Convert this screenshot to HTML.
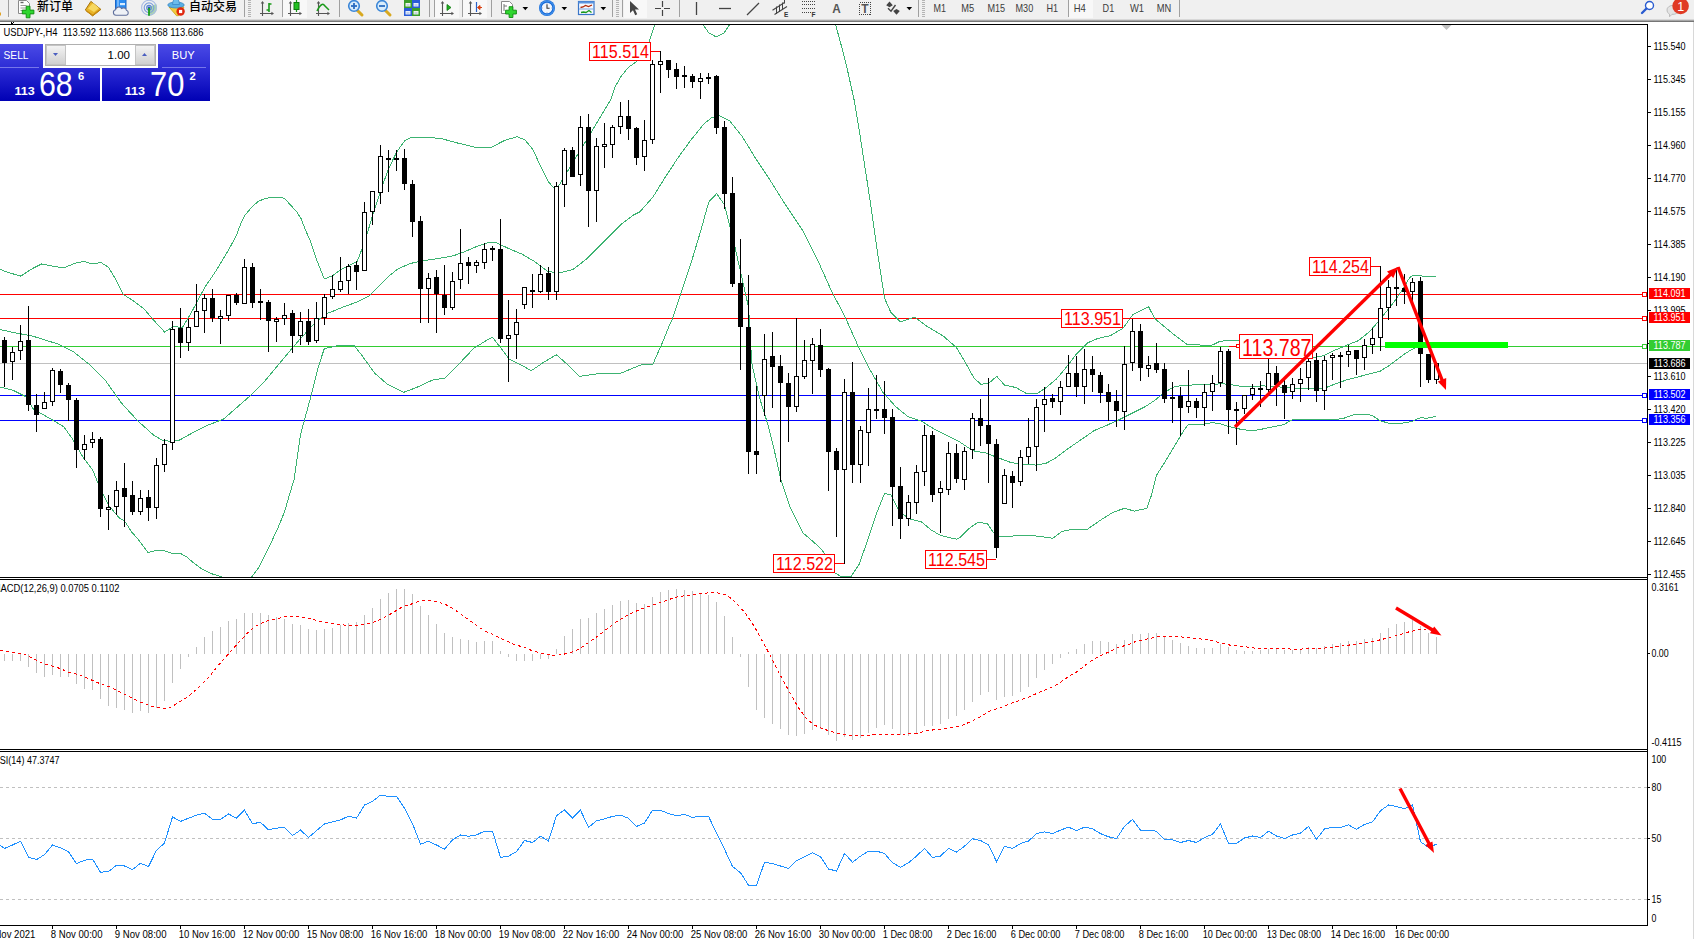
<!DOCTYPE html>
<html lang="zh"><head><meta charset="utf-8"><title>USDJPY-,H4</title>
<style>
html,body{margin:0;padding:0;background:#fff;}
body{width:1694px;height:939px;overflow:hidden;position:relative;font-family:"Liberation Sans","Noto Sans CJK SC",sans-serif;}
#tb{position:absolute;left:0;top:0;width:1694px;height:19px;background:#f0f0f0;}
#tbl{position:absolute;left:0;top:19px;width:1694px;height:3px;background:linear-gradient(#ececec 0%,#c4c4c4 33%,#8c8c8c 66%,#606060 100%);}
.t{position:absolute;white-space:nowrap;color:#000;}
.cj{font-family:"Liberation Sans","Noto Sans CJK SC",sans-serif;font-size:12px;line-height:14px;top:0px;color:#000;font-weight:500;}
.tf{font-size:10.5px;line-height:12px;top:3px;color:#3c3c3c;}
svg{position:absolute;left:0;top:0;}
svg text{font-family:"Liberation Sans",sans-serif;}
#panel{position:absolute;left:0;top:44px;width:210px;height:57px;}
</style></head><body>

<div id="tb"></div><div id="tbl"></div>
<div class="t cj" style="left:37px;">新订单</div>
<div class="t cj" style="left:189px;">自动交易</div>
<svg width="1694" height="939" viewBox="0 0 1694 939">
<defs><clipPath id="cm"><rect x="0" y="25" width="1647" height="552"/></clipPath><clipPath id="c2"><rect x="0" y="580" width="1647" height="169"/></clipPath><clipPath id="c3"><rect x="0" y="752" width="1647" height="173"/></clipPath><linearGradient id="gb" x1="0" y1="0" x2="0" y2="1"><stop offset="0" stop-color="#4a4ae6"/><stop offset="0.45" stop-color="#2a2ad4"/><stop offset="1" stop-color="#0000b4"/></linearGradient><linearGradient id="gs" x1="0" y1="0" x2="0" y2="1"><stop offset="0" stop-color="#f4f4f4"/><stop offset="1" stop-color="#cfcfcf"/></linearGradient></defs>
<g id="toolbar" shape-rendering="crispEdges">
<rect x="8" y="0" width="1" height="17" fill="#a0a0a0"/>
<rect x="244" y="0" width="1" height="17" fill="#a0a0a0"/>
<rect x="282" y="0" width="1" height="17" fill="#a0a0a0"/>
<rect x="339" y="0" width="1" height="17" fill="#a0a0a0"/>
<rect x="429" y="0" width="1" height="17" fill="#a0a0a0"/>
<rect x="434" y="0" width="1" height="17" fill="#a0a0a0"/>
<rect x="462" y="0" width="1" height="17" fill="#a0a0a0"/>
<rect x="491" y="0" width="1" height="17" fill="#a0a0a0"/>
<rect x="612" y="0" width="1" height="17" fill="#a0a0a0"/>
<rect x="622" y="0" width="1" height="17" fill="#a0a0a0"/>
<rect x="679" y="0" width="1" height="17" fill="#a0a0a0"/>
<rect x="918" y="0" width="1" height="17" fill="#a0a0a0"/>
<rect x="1068" y="0" width="1" height="17" fill="#a0a0a0"/>
<rect x="1179" y="0" width="1" height="17" fill="#a0a0a0"/>
<rect x="283" y="0" width="24" height="18" fill="#f8f8f8"/>
<rect x="435" y="0" width="24" height="18" fill="#f8f8f8"/>
<rect x="463" y="0" width="24" height="18" fill="#f8f8f8"/>
<rect x="624" y="0" width="23" height="18" fill="#f8f8f8"/>
<rect x="1069" y="0" width="24" height="18" fill="#f8f8f8"/>
<rect x="248" y="0" width="3" height="1" fill="#b4b4b4"/>
<rect x="248" y="2" width="3" height="1" fill="#b4b4b4"/>
<rect x="248" y="4" width="3" height="1" fill="#b4b4b4"/>
<rect x="248" y="6" width="3" height="1" fill="#b4b4b4"/>
<rect x="248" y="8" width="3" height="1" fill="#b4b4b4"/>
<rect x="248" y="10" width="3" height="1" fill="#b4b4b4"/>
<rect x="248" y="12" width="3" height="1" fill="#b4b4b4"/>
<rect x="248" y="14" width="3" height="1" fill="#b4b4b4"/>
<rect x="248" y="16" width="3" height="1" fill="#b4b4b4"/>
<rect x="616" y="0" width="3" height="1" fill="#b4b4b4"/>
<rect x="616" y="2" width="3" height="1" fill="#b4b4b4"/>
<rect x="616" y="4" width="3" height="1" fill="#b4b4b4"/>
<rect x="616" y="6" width="3" height="1" fill="#b4b4b4"/>
<rect x="616" y="8" width="3" height="1" fill="#b4b4b4"/>
<rect x="616" y="10" width="3" height="1" fill="#b4b4b4"/>
<rect x="616" y="12" width="3" height="1" fill="#b4b4b4"/>
<rect x="616" y="14" width="3" height="1" fill="#b4b4b4"/>
<rect x="616" y="16" width="3" height="1" fill="#b4b4b4"/>
<rect x="922" y="0" width="3" height="1" fill="#b4b4b4"/>
<rect x="922" y="2" width="3" height="1" fill="#b4b4b4"/>
<rect x="922" y="4" width="3" height="1" fill="#b4b4b4"/>
<rect x="922" y="6" width="3" height="1" fill="#b4b4b4"/>
<rect x="922" y="8" width="3" height="1" fill="#b4b4b4"/>
<rect x="922" y="10" width="3" height="1" fill="#b4b4b4"/>
<rect x="922" y="12" width="3" height="1" fill="#b4b4b4"/>
<rect x="922" y="14" width="3" height="1" fill="#b4b4b4"/>
<rect x="922" y="16" width="3" height="1" fill="#b4b4b4"/>
</g>
<text x="933.6" y="12" font-size="10.5" fill="#3c3c3c" textLength="12.5" lengthAdjust="spacingAndGlyphs">M1</text>
<text x="961.3" y="12" font-size="10.5" fill="#3c3c3c" textLength="12.9" lengthAdjust="spacingAndGlyphs">M5</text>
<text x="987.4" y="12" font-size="10.5" fill="#3c3c3c" textLength="17.7" lengthAdjust="spacingAndGlyphs">M15</text>
<text x="1015.5" y="12" font-size="10.5" fill="#3c3c3c" textLength="17.7" lengthAdjust="spacingAndGlyphs">M30</text>
<text x="1046.4" y="12" font-size="10.5" fill="#3c3c3c" textLength="11.6" lengthAdjust="spacingAndGlyphs">H1</text>
<text x="1073.7" y="12" font-size="10.5" fill="#3c3c3c" textLength="12.1" lengthAdjust="spacingAndGlyphs">H4</text>
<text x="1102.6" y="12" font-size="10.5" fill="#3c3c3c" textLength="11.6" lengthAdjust="spacingAndGlyphs">D1</text>
<text x="1129.9" y="12" font-size="10.5" fill="#3c3c3c" textLength="14.1" lengthAdjust="spacingAndGlyphs">W1</text>
<text x="1156.7" y="12" font-size="10.5" fill="#3c3c3c" textLength="14.5" lengthAdjust="spacingAndGlyphs">MN</text>
<g id="icons"><svg x="0" y="0" width="1694" height="19" viewBox="0 0 1694 19" overflow="hidden"><path d="M18.500 0.500h8l3 3v10h-11z" fill="#fff" stroke="#8a8a8a"/><path d="M20.500 2.500h3" stroke="#666" stroke-width="1.400"/><path d="M20.500 5.500h6M20.500 8h6M20.500 10.500h3" stroke="#9a9a9a" stroke-width="1"/><path d="M26.2 6.2h3.8v3.9h3.9v3.8h-3.9v3.9h-3.8v-3.9h-3.9v-3.8h3.9z" fill="#2fd62f" stroke="#0f8a0f" stroke-width="0.9"/><path d="M85.300 10l5.600-8.600 10 8-8.300 6.500z" fill="#e9b428" stroke="#a87408" stroke-width="1"/><path d="M88 8.500l5 -5.500 6 5-5 4z" fill="#f7d860"/><path d="M86.500 11l6.300 4.300 7-5.500" fill="none" stroke="#c88a10" stroke-width="1.300"/><rect x="115.500" y="-1" width="10.500" height="9.500" fill="#2b8cf0" stroke="#1a66c8"/><path d="M118 0v8" stroke="#8cc4ff" stroke-width="1.500"/><rect x="120" y="3" width="5" height="2.200" fill="#d8ecff"/><path d="M116 15.300a2.800 2.800 0 0 1-0.500-5.500a3.300 3.300 0 0 1 6-1.300a3.200 3.200 0 0 1 5 1.800a2.600 2.600 0 0 1-0.300 5z" fill="#eef1f6" stroke="#5f6f9c" stroke-width="1.100"/><path d="M149 7.700L149 15.700A8 8 0 0 0 156 3.800Z" fill="#8ccc8c" opacity="0.700"/><circle cx="149" cy="7.700" r="7.400" fill="none" stroke="#a8bce4" stroke-width="1.100"/><circle cx="149" cy="7.700" r="4.800" fill="none" stroke="#7f9fdc" stroke-width="1.200"/><circle cx="149" cy="7.700" r="2.300" fill="none" stroke="#5a86d4" stroke-width="1.100"/><circle cx="149" cy="7.700" r="1.300" fill="#2a5cc0"/><path d="M149 8v7.800" fill="none" stroke="#18a018" stroke-width="1.800"/><path d="M169 7l7.500 8.700h2l5.500-8.700z" fill="#f2cc3c" stroke="#c8a018" stroke-width="0.800"/><ellipse cx="176" cy="5" rx="8.200" ry="3" fill="#5ab0e4" stroke="#3a88c4" stroke-width="0.800"/><path d="M172.500 4.500q0.500-6 3.500-6t3.500 6z" fill="#6cbcec" stroke="#3a88c4" stroke-width="0.800"/><circle cx="180.600" cy="11.500" r="4.200" fill="#e02810"/><rect x="179" y="9.900" width="3.200" height="3.200" fill="#fff"/><path d="M262.5 2v14M260 13.500h13" stroke="#555" stroke-width="1.100" fill="none"/><path d="M262.5 1l-1.800 2.600h3.600zM274 13.500l-2.600-1.800v3.600z" fill="#555"/><path d="M269 3v9M269 4h2.5M266.5 10h2.5" stroke="#1a9a1a" stroke-width="1.6" fill="none"/><path d="M290.5 2v14M288 13.500h13" stroke="#555" stroke-width="1.100" fill="none"/><path d="M290.5 1l-1.800 2.600h3.600zM302 13.500l-2.600-1.800v3.600z" fill="#555"/><path d="M296.5 0v12" stroke="#1a9a1a" stroke-width="1.2"/><rect x="294" y="2.5" width="5" height="7" fill="#22c022" stroke="#0e7a0e"/><path d="M318.5 2v14M316 13.500h13" stroke="#555" stroke-width="1.100" fill="none"/><path d="M318.5 1l-1.800 2.600h3.600zM330 13.500l-2.600-1.800v3.600z" fill="#555"/><path d="M317 11q5-10 8-5l4 4" stroke="#1a9a1a" stroke-width="1.5" fill="none"/><path d="M357 10l5 5" stroke="#d8a820" stroke-width="3" stroke-linecap="round"/><circle cx="354" cy="6" r="5.3" fill="#d8ecfb" stroke="#3a86d8" stroke-width="1.6"/><path d="M351 6h6" stroke="#2a6cc0" stroke-width="1.8"/><path d="M354 3v6" stroke="#2a6cc0" stroke-width="1.8"/><path d="M385 10l5 5" stroke="#d8a820" stroke-width="3" stroke-linecap="round"/><circle cx="382" cy="6" r="5.3" fill="#d8ecfb" stroke="#3a86d8" stroke-width="1.6"/><path d="M379 6h6" stroke="#2a6cc0" stroke-width="1.8"/><rect x="404" y="0" width="8" height="8" fill="#3a9e2a"/><rect x="412" y="0" width="8" height="8" fill="#2a5cd8"/><rect x="404" y="8" width="8" height="8" fill="#2a5cd8"/><rect x="412" y="8" width="8" height="8" fill="#3a9e2a"/><rect x="405.500" y="3" width="5" height="3.500" fill="#eef6e8"/><rect x="413.500" y="3" width="5" height="3.500" fill="#e8eefc"/><rect x="405.500" y="11" width="5" height="3.500" fill="#e8eefc"/><rect x="413.500" y="11" width="5" height="3.500" fill="#eef6e8"/><path d="M406.500 5h3M414.500 5h3M406.500 13h3M414.500 13h3" stroke="#8aa8d0" stroke-width="0.800"/><path d="M442.5 2v14M440 13.500h13" stroke="#555" stroke-width="1.100" fill="none"/><path d="M442.5 1l-1.800 2.600h3.600zM454 13.500l-2.600-1.800v3.600z" fill="#555"/><path d="M447 4.500l4 3-4 3z" fill="#22b022" stroke="#0e7a0e" stroke-width="0.8"/><path d="M470.5 2v14M468 13.500h13" stroke="#555" stroke-width="1.100" fill="none"/><path d="M470.5 1l-1.800 2.600h3.600zM482 13.500l-2.600-1.800v3.600z" fill="#555"/><path d="M476.500 2v10" stroke="#2a62c8" stroke-width="1.2"/><path d="M482 7.500h-4M480 5.500l-2.500 2 2.500 2z" stroke="#d84010" fill="#d84010" stroke-width="1"/><path d="M501.500 1.500h8l3 3v9h-11z" fill="#fff" stroke="#8a8a8a"/><path d="M504 4v7M504 6h3" stroke="#777" stroke-width="1"/><path d="M509.1 6.7h3.8v3.5h3.5v3.8h-3.5v3.5h-3.8v-3.5h-3.5v-3.8h3.5z" fill="#2fd62f" stroke="#0f8a0f" stroke-width="0.9"/><circle cx="547" cy="8" r="8" fill="#1a6cd8"/><circle cx="547" cy="8" r="7" fill="none" stroke="#4a9af0" stroke-width="1"/><circle cx="547" cy="8" r="5.300" fill="#f2f6fc"/><path d="M547 4.300v4h2.600" stroke="#333" stroke-width="1.100" fill="none"/><path d="M547 3.200v0.800M547 12v0.800M542.200 8h0.800M551 8h0.800" stroke="#8aa0c0" stroke-width="0.800"/><rect x="578.500" y="1.500" width="15.500" height="13" fill="#f6f9ff" stroke="#3a76c8" stroke-width="1.200"/><rect x="578.500" y="1.500" width="15.500" height="2" fill="#5a94e0"/><path d="M579 9h14.500" stroke="#7aa6e0"/><path d="M580.500 7.500l2.500-0.500 2.500-1.500 3 1 3.500-1.500" stroke="#b02808" fill="none" stroke-width="1.300"/><path d="M581 12.500l2.500-0.500 2.500 0.500 3-2 2.500 2" stroke="#1a9a1a" fill="none" stroke-width="1.300"/><path d="M522.5 7h5.600l-2.800 3.200z" fill="#000"/><path d="M561.5 7h5.600l-2.800 3.200z" fill="#000"/><path d="M600.5 7h5.600l-2.800 3.200z" fill="#000"/><path d="M906.5 7h5.600l-2.800 3.200z" fill="#000"/><path d="M630 1v12l3-2.800 2.200 5 2-1-2.200-4.800h4z" fill="#444"/><path d="M662.500 1v6M662.500 10v6M655 8.500h6M664 8.500h6" stroke="#444" stroke-width="1.200"/><path d="M696.500 2v13" stroke="#444" stroke-width="1.300"/><path d="M719 8.500h12" stroke="#444" stroke-width="1.300"/><path d="M747 15l12-12" stroke="#444" stroke-width="1.300"/><path d="M772.500 10.300L784.500 2.500M774.500 14.500L787 6.500" stroke="#444" stroke-width="1.100" fill="none"/><path d="M776.500 6.500v7.500M779.500 4.500v7.500M782.500 2.500v7.500M784.500 0v3.500" stroke="#444" stroke-width="1" fill="none"/><text x="784" y="17" font-size="6.500" font-weight="bold" fill="#333">E</text><g shape-rendering="crispEdges"><path d="M802 1.500h13M802 4.500h13M802 8.500h13M802 12.500h9" stroke="#444" stroke-width="1" stroke-dasharray="1 1"/></g><text x="811.500" y="17" font-size="6.500" font-weight="bold" fill="#333">F</text><text x="832.300" y="13" font-size="12.500" font-weight="bold" fill="#555" textLength="8.500" lengthAdjust="spacingAndGlyphs">A</text><g shape-rendering="crispEdges"><rect x="859.500" y="2.500" width="11" height="12" fill="none" stroke="#444" stroke-dasharray="1 1"/></g><text x="861.300" y="13" font-size="12" font-weight="bold" fill="#555">T</text><path d="M889.500 1.500l3.300 3.700-3.300 2-3.300-2zM896.500 14.800l-3.300-3.700 3.300-2 3.300 2z" fill="#444"/><path d="M888 8.200l3 3 4.500-6.200" fill="none" stroke="#444" stroke-width="1.400"/><rect x="0" y="12.500" width="1" height="3" fill="#e0a428"/><circle cx="1649.500" cy="5.500" r="4" fill="#fff" stroke="#2a5cd0" stroke-width="1.400"/><path d="M1646.500 8.500l-4.500 4.500" stroke="#2a5cd0" stroke-width="2.400" stroke-linecap="round"/><path d="M1667 10a6 4.500 0 1 1 5 4.300l-2.500 2.500v-2.700a6 4.500 0 0 1-2.500-4.100z" fill="#e4e4e4" stroke="#bdbdbd"/><circle cx="1680.600" cy="6" r="8.300" fill="#e03a24"/><text x="1677.300" y="10.500" font-size="12.500" fill="#fff">1</text></svg></g>
<g shape-rendering="crispEdges">
<rect x="0" y="22" width="1694" height="2" fill="#fff"/>
<rect x="0" y="24" width="1648" height="1" fill="#000"/>
<rect x="0" y="577" width="1648" height="1" fill="#000"/>
<rect x="0" y="579" width="1648" height="1" fill="#000"/>
<rect x="0" y="749" width="1648" height="1" fill="#000"/>
<rect x="0" y="751" width="1648" height="1" fill="#000"/>
<rect x="0" y="925" width="1648" height="1" fill="#000"/>
<rect x="1647" y="24" width="1" height="902" fill="#000"/>
<rect x="1693" y="22" width="1" height="917" fill="#d8d8d8"/>
<path d="M11 22l1.500 2 1.500-2" stroke="#000" fill="none"/>
<rect x="1648" y="46" width="3" height="1" fill="#000"/>
<rect x="1648" y="79" width="3" height="1" fill="#000"/>
<rect x="1648" y="112" width="3" height="1" fill="#000"/>
<rect x="1648" y="145" width="3" height="1" fill="#000"/>
<rect x="1648" y="178" width="3" height="1" fill="#000"/>
<rect x="1648" y="211" width="3" height="1" fill="#000"/>
<rect x="1648" y="244" width="3" height="1" fill="#000"/>
<rect x="1648" y="277" width="3" height="1" fill="#000"/>
<rect x="1648" y="310" width="3" height="1" fill="#000"/>
<rect x="1648" y="343" width="3" height="1" fill="#000"/>
<rect x="1648" y="376" width="3" height="1" fill="#000"/>
<rect x="1648" y="409" width="3" height="1" fill="#000"/>
<rect x="1648" y="442" width="3" height="1" fill="#000"/>
<rect x="1648" y="475" width="3" height="1" fill="#000"/>
<rect x="1648" y="508" width="3" height="1" fill="#000"/>
<rect x="1648" y="541" width="3" height="1" fill="#000"/>
<rect x="1648" y="574" width="3" height="1" fill="#000"/>
<rect x="1648" y="653" width="2" height="1" fill="#000"/>
<rect x="1648" y="787" width="2" height="1" fill="#000"/>
<rect x="1648" y="838" width="2" height="1" fill="#000"/>
<rect x="1648" y="899" width="2" height="1" fill="#000"/>
<rect x="52" y="926" width="1" height="3" fill="#000"/>
<rect x="116" y="926" width="1" height="3" fill="#000"/>
<rect x="180" y="926" width="1" height="3" fill="#000"/>
<rect x="244" y="926" width="1" height="3" fill="#000"/>
<rect x="308" y="926" width="1" height="3" fill="#000"/>
<rect x="372" y="926" width="1" height="3" fill="#000"/>
<rect x="436" y="926" width="1" height="3" fill="#000"/>
<rect x="500" y="926" width="1" height="3" fill="#000"/>
<rect x="564" y="926" width="1" height="3" fill="#000"/>
<rect x="628" y="926" width="1" height="3" fill="#000"/>
<rect x="692" y="926" width="1" height="3" fill="#000"/>
<rect x="756" y="926" width="1" height="3" fill="#000"/>
<rect x="820" y="926" width="1" height="3" fill="#000"/>
<rect x="884" y="926" width="1" height="3" fill="#000"/>
<rect x="948" y="926" width="1" height="3" fill="#000"/>
<rect x="1012" y="926" width="1" height="3" fill="#000"/>
<rect x="1076" y="926" width="1" height="3" fill="#000"/>
<rect x="1140" y="926" width="1" height="3" fill="#000"/>
<rect x="1204" y="926" width="1" height="3" fill="#000"/>
<rect x="1268" y="926" width="1" height="3" fill="#000"/>
<rect x="1332" y="926" width="1" height="3" fill="#000"/>
<rect x="1396" y="926" width="1" height="3" fill="#000"/>
</g>
<path d="M1441.500 25h10l-5 5z" fill="#c0c0c0"/>
<g shape-rendering="crispEdges">
<rect x="0" y="294" width="1647" height="1" fill="#ff0000"/>
<rect x="0" y="318" width="1647" height="1" fill="#ff0000"/>
<rect x="0" y="346" width="1647" height="1" fill="#32cd32"/>
<rect x="0" y="363" width="1647" height="1" fill="#c0c0c0"/>
<rect x="0" y="395" width="1647" height="1" fill="#0000ff"/>
<rect x="0" y="420" width="1647" height="1" fill="#0000ff"/>
</g>
<g clip-path="url(#cm)" fill="none" stroke="#3cb371" stroke-width="1" shape-rendering="crispEdges">
<polyline points="0.0,269.4 9.6,272.9 20.8,276.1 32.0,268.8 41.5,264.0 52.7,266.2 63.9,267.8 75.1,263.3 83.7,261.4 92.7,264.0 100.7,262.4 108.6,267.2 115.0,278.3 123.0,294.3 134.2,301.4 143.8,308.7 153.4,319.9 164.6,332.0 174.2,326.3 182.1,327.9 191.7,311.9 204.5,287.9 217.3,268.8 226.9,252.8 235.8,236.8 241.0,223.1 244.9,215.3 251.4,207.5 257.9,201.7 264.4,198.7 273.5,197.1 280.0,197.1 284.5,198.4 290.4,204.9 296.9,212.1 301.4,219.2 304.7,228.3 309.9,240.0 316.4,259.2 324.3,279.0 332.3,275.8 341.2,269.4 357.2,261.4 365.2,240.6 373.1,213.4 382.7,184.7 389.1,167.7 396.8,151.8 404.8,140.6 411.5,137.4 424.3,137.4 440.2,138.3 457.8,143.1 475.4,147.3 491.4,147.3 504.2,140.6 516.9,136.7 524.9,139.9 532.9,149.5 540.9,167.1 548.9,182.4 555.3,189.5 560.1,183.7 572.9,162.3 585.6,141.5 595.2,125.6 604.8,109.6 610.6,100.0 615.0,87.2 620.9,76.6 628.0,67.7 636.9,61.3 643.3,51.8 649.2,41.8 654.4,25.8 662.4,16.8 678.3,7.2 694.3,16.8 703.9,25.8 708.7,32.8 716.1,36.9 723.7,33.4 728.8,25.8 735.9,13.6 783.8,0.8 828.5,10.4 835.9,25.8 841.3,45.6 847.7,71.1 854.1,99.9 860.5,138.2 866.9,179.8 871.7,211.7 878.1,256.5 884.5,298.0 890.8,312.4 900.4,322.0 914.8,317.2 927.6,326.7 943.6,336.3 956.4,347.5 965.9,363.5 973.9,377.9 980.8,384.3 988.8,383.3 996.7,376.3 1004.7,385.2 1015.9,387.5 1027.1,393.9 1036.7,393.9 1046.3,387.5 1055.9,379.5 1065.5,368.3 1076.6,353.9 1087.8,342.7 1097.4,338.6 1110.2,335.7 1123.0,328.3 1132.6,314.9 1140.5,310.8 1148.5,306.6 1154.9,318.8 1164.5,326.7 1174.1,334.7 1186.9,344.3 1199.7,345.0 1212.4,345.0 1220.4,341.1 1238.0,340.5 1239.2,341.2 1273.3,350.1 1313.8,357.6 1324.4,355.5 1335.1,350.1 1347.8,344.8 1358.5,340.6 1369.1,332.0 1377.7,322.4 1386.2,311.8 1394.7,301.1 1403.2,288.4 1409.6,277.7 1412.8,275.6 1436.3,276.6"/>
<polyline points="0.0,329.5 14.4,332.7 32.0,335.9 57.5,343.9 73.5,351.8 89.5,364.6 105.5,380.6 121.4,403.0 137.4,420.5 153.4,434.9 163.0,440.7 172.6,441.3 178.9,440.4 191.7,433.3 207.7,425.3 223.7,418.9 236.5,407.8 249.2,396.6 265.2,380.6 281.2,361.4 297.2,342.3 313.2,324.7 325.9,313.5 330.0,312.5 342.8,307.1 357.2,302.0 368.3,296.5 377.9,286.9 387.5,277.3 397.1,269.4 409.9,263.6 422.7,260.7 438.6,258.5 453.0,255.9 464.2,251.8 477.0,246.4 489.8,242.2 496.2,242.8 508.9,248.6 521.7,254.0 534.5,261.4 547.3,271.0 558.5,273.2 572.9,269.4 585.6,259.8 595.2,250.2 608.0,237.4 620.8,224.6 633.6,215.0 640.0,211.7 652.8,197.3 665.6,176.6 678.3,157.4 691.1,139.8 703.9,123.9 711.9,117.5 719.9,115.9 729.5,120.7 742.3,136.6 755.0,157.4 767.8,176.6 783.8,202.1 803.0,230.9 818.9,262.9 831.7,291.6 844.5,315.6 857.3,344.3 870.1,369.9 882.9,392.3 895.6,406.6 908.4,416.9 921.2,421.0 934.0,429.0 946.8,435.4 959.5,441.8 972.8,450.7 985.6,453.0 998.3,457.8 1011.1,462.6 1023.9,464.2 1036.7,465.1 1046.3,463.2 1055.9,457.8 1068.6,448.2 1081.4,439.5 1094.2,430.6 1107.0,425.2 1119.8,419.4 1132.6,413.0 1145.3,406.6 1154.9,400.2 1164.5,392.3 1174.1,386.8 1183.7,385.2 1196.5,384.9 1209.2,384.9 1222.0,383.6 1230.7,384.7 1241.3,386.4 1252.0,386.4 1262.6,385.9 1273.3,386.4 1283.9,387.4 1294.6,388.5 1305.2,388.5 1315.9,388.9 1326.5,387.4 1337.2,383.2 1347.8,379.5 1358.5,376.8 1369.1,374.0 1379.8,371.4 1388.3,366.1 1396.8,359.7 1405.4,353.3 1413.9,348.4 1420.3,345.5"/>
<polyline points="0.0,387.0 12.8,390.2 25.6,396.6 33.6,409.4 47.9,417.3 63.9,426.9 71.9,438.1 83.1,457.3 92.7,470.1 99.1,486.1 108.6,505.2 119.8,518.6 124.5,520.9 131.7,532.0 139.5,541.0 147.9,552.5 152.5,551.2 162.9,550.1 171.9,553.4 180.4,553.4 186.2,556.6 194.0,563.1 201.8,569.0 210.9,573.5 221.3,576.8 236.0,581.0 251.8,576.8 259.0,567.0 265.5,554.0 271.9,541.0 278.4,526.8 284.3,512.5 288.8,496.9 294.0,480.0 300.4,434.9 310.0,399.8 318.0,367.8 324.3,348.6 332.3,347.0 339.6,345.1 354.0,345.1 362.0,355.6 374.7,373.2 387.5,384.4 403.5,392.4 416.3,387.6 432.3,380.2 445.0,378.0 457.8,365.2 473.8,348.3 485.0,341.3 492.3,337.1 499.4,346.1 508.9,358.8 521.7,365.2 531.3,370.7 544.1,362.0 556.2,354.7 566.5,363.6 579.2,376.4 601.6,373.2 620.8,373.2 641.6,364.6 652.7,364.6 662.3,342.9 670.0,323.7 672.0,320.1 681.5,291.6 691.1,262.9 700.7,230.9 708.7,202.1 716.7,193.5 724.7,205.3 732.7,237.3 740.7,272.4 748.6,307.6 751.8,363.5 759.8,398.6 767.8,424.2 774.2,449.8 780.6,478.5 790.2,507.3 803.0,532.9 815.8,544.0 823.7,552.0 831.7,571.2 841.3,576.6 850.9,576.6 858.9,564.8 866.9,542.4 876.5,513.7 884.5,493.6 890.8,494.5 898.8,510.5 908.4,518.5 921.2,521.7 930.8,529.7 940.4,535.4 956.4,539.2 960.0,537.7 969.6,528.1 977.6,522.6 987.2,523.3 993.6,532.9 999.9,537.0 1011.1,536.1 1023.9,535.4 1038.3,536.1 1052.7,538.3 1062.3,531.3 1075.0,529.0 1087.8,529.0 1100.6,520.1 1113.4,512.1 1124.6,508.3 1134.2,511.1 1146.9,508.3 1151.7,494.5 1156.5,475.3 1164.5,462.6 1174.1,446.6 1183.7,430.6 1188.5,424.2 1199.7,424.8 1212.4,422.6 1220.0,423.7 1228.5,426.4 1237.0,428.6 1245.6,430.0 1254.1,430.5 1262.6,429.0 1273.3,426.8 1283.9,424.7 1290.3,420.5 1294.6,419.4 1320.1,419.4 1332.9,419.8 1343.6,418.3 1354.2,414.5 1367.0,414.1 1373.4,416.2 1379.8,420.5 1388.3,423.2 1399.0,423.7 1411.8,421.5 1420.3,417.7 1426.7,418.3 1436.3,416.2"/>
</g>
<g shape-rendering="crispEdges" clip-path="url(#cm)">
<rect x="4" y="337" width="1" height="50" fill="#000"/>
<rect x="2" y="340" width="5" height="23" fill="#000"/>
<rect x="12" y="347" width="1" height="33" fill="#000"/>
<rect x="10" y="352" width="5" height="10" fill="#000"/><rect x="11" y="353" width="3" height="8" fill="#fff"/>
<rect x="20" y="325" width="1" height="35" fill="#000"/>
<rect x="18" y="341" width="5" height="10" fill="#000"/><rect x="19" y="342" width="3" height="8" fill="#fff"/>
<rect x="28" y="306" width="1" height="105" fill="#000"/>
<rect x="26" y="340" width="5" height="65" fill="#000"/>
<rect x="36" y="394" width="1" height="38" fill="#000"/>
<rect x="34" y="405" width="5" height="10" fill="#000"/>
<rect x="44" y="392" width="1" height="17" fill="#000"/>
<rect x="42" y="402" width="5" height="7" fill="#000"/><rect x="43" y="403" width="3" height="5" fill="#fff"/>
<rect x="52" y="368" width="1" height="38" fill="#000"/>
<rect x="50" y="370" width="5" height="32" fill="#000"/><rect x="51" y="371" width="3" height="30" fill="#fff"/>
<rect x="60" y="369" width="1" height="24" fill="#000"/>
<rect x="58" y="371" width="5" height="14" fill="#000"/>
<rect x="68" y="383" width="1" height="38" fill="#000"/>
<rect x="66" y="385" width="5" height="15" fill="#000"/>
<rect x="76" y="398" width="1" height="70" fill="#000"/>
<rect x="74" y="400" width="5" height="50" fill="#000"/>
<rect x="84" y="435" width="1" height="25" fill="#000"/>
<rect x="82" y="444" width="5" height="6" fill="#000"/><rect x="83" y="445" width="3" height="4" fill="#fff"/>
<rect x="92" y="432" width="1" height="16" fill="#000"/>
<rect x="90" y="439" width="5" height="4" fill="#000"/><rect x="91" y="440" width="3" height="2" fill="#fff"/>
<rect x="100" y="437" width="1" height="80" fill="#000"/>
<rect x="98" y="439" width="5" height="70" fill="#000"/>
<rect x="108" y="495" width="1" height="35" fill="#000"/>
<rect x="106" y="507" width="5" height="3" fill="#000"/><rect x="107" y="508" width="3" height="1" fill="#fff"/>
<rect x="116" y="481" width="1" height="34" fill="#000"/>
<rect x="114" y="490" width="5" height="17" fill="#000"/><rect x="115" y="491" width="3" height="15" fill="#fff"/>
<rect x="124" y="463" width="1" height="64" fill="#000"/>
<rect x="122" y="488" width="5" height="9" fill="#000"/>
<rect x="132" y="481" width="1" height="34" fill="#000"/>
<rect x="130" y="495" width="5" height="17" fill="#000"/>
<rect x="140" y="490" width="1" height="25" fill="#000"/>
<rect x="138" y="498" width="5" height="14" fill="#000"/><rect x="139" y="499" width="3" height="12" fill="#fff"/>
<rect x="148" y="490" width="1" height="31" fill="#000"/>
<rect x="146" y="497" width="5" height="11" fill="#000"/>
<rect x="156" y="458" width="1" height="61" fill="#000"/>
<rect x="154" y="465" width="5" height="43" fill="#000"/><rect x="155" y="466" width="3" height="41" fill="#fff"/>
<rect x="164" y="439" width="1" height="33" fill="#000"/>
<rect x="162" y="444" width="5" height="21" fill="#000"/><rect x="163" y="445" width="3" height="19" fill="#fff"/>
<rect x="172" y="321" width="1" height="129" fill="#000"/>
<rect x="170" y="329" width="5" height="114" fill="#000"/><rect x="171" y="330" width="3" height="112" fill="#fff"/>
<rect x="180" y="308" width="1" height="50" fill="#000"/>
<rect x="178" y="328" width="5" height="15" fill="#000"/>
<rect x="188" y="319" width="1" height="32" fill="#000"/>
<rect x="186" y="327" width="5" height="16" fill="#000"/><rect x="187" y="328" width="3" height="14" fill="#fff"/>
<rect x="196" y="284" width="1" height="43" fill="#000"/>
<rect x="194" y="311" width="5" height="16" fill="#000"/><rect x="195" y="312" width="3" height="14" fill="#fff"/>
<rect x="204" y="294" width="1" height="39" fill="#000"/>
<rect x="202" y="298" width="5" height="13" fill="#000"/><rect x="203" y="299" width="3" height="11" fill="#fff"/>
<rect x="212" y="289" width="1" height="33" fill="#000"/>
<rect x="210" y="298" width="5" height="20" fill="#000"/>
<rect x="220" y="310" width="1" height="34" fill="#000"/>
<rect x="218" y="316" width="5" height="3" fill="#000"/><rect x="219" y="317" width="3" height="1" fill="#fff"/>
<rect x="228" y="295" width="1" height="26" fill="#000"/>
<rect x="226" y="295" width="5" height="21" fill="#000"/><rect x="227" y="296" width="3" height="19" fill="#fff"/>
<rect x="236" y="293" width="1" height="12" fill="#000"/>
<rect x="234" y="295" width="5" height="8" fill="#000"/>
<rect x="244" y="259" width="1" height="45" fill="#000"/>
<rect x="242" y="267" width="5" height="37" fill="#000"/><rect x="243" y="268" width="3" height="35" fill="#fff"/>
<rect x="252" y="263" width="1" height="45" fill="#000"/>
<rect x="250" y="267" width="5" height="36" fill="#000"/>
<rect x="260" y="289" width="1" height="31" fill="#000"/>
<rect x="258" y="301" width="5" height="2" fill="#000"/>
<rect x="268" y="300" width="1" height="52" fill="#000"/>
<rect x="266" y="302" width="5" height="19" fill="#000"/>
<rect x="276" y="317" width="1" height="25" fill="#000"/>
<rect x="274" y="319" width="5" height="3" fill="#000"/><rect x="275" y="320" width="3" height="1" fill="#fff"/>
<rect x="284" y="303" width="1" height="22" fill="#000"/>
<rect x="282" y="315" width="5" height="4" fill="#000"/><rect x="283" y="316" width="3" height="2" fill="#fff"/>
<rect x="292" y="310" width="1" height="43" fill="#000"/>
<rect x="290" y="313" width="5" height="23" fill="#000"/>
<rect x="300" y="312" width="1" height="33" fill="#000"/>
<rect x="298" y="321" width="5" height="15" fill="#000"/><rect x="299" y="322" width="3" height="13" fill="#fff"/>
<rect x="308" y="309" width="1" height="36" fill="#000"/>
<rect x="306" y="321" width="5" height="21" fill="#000"/>
<rect x="316" y="302" width="1" height="41" fill="#000"/>
<rect x="314" y="318" width="5" height="23" fill="#000"/><rect x="315" y="319" width="3" height="21" fill="#fff"/>
<rect x="324" y="294" width="1" height="31" fill="#000"/>
<rect x="322" y="297" width="5" height="21" fill="#000"/><rect x="323" y="298" width="3" height="19" fill="#fff"/>
<rect x="332" y="275" width="1" height="24" fill="#000"/>
<rect x="330" y="289" width="5" height="8" fill="#000"/><rect x="331" y="290" width="3" height="6" fill="#fff"/>
<rect x="340" y="257" width="1" height="35" fill="#000"/>
<rect x="338" y="281" width="5" height="9" fill="#000"/><rect x="339" y="282" width="3" height="7" fill="#fff"/>
<rect x="348" y="264" width="1" height="30" fill="#000"/>
<rect x="346" y="266" width="5" height="15" fill="#000"/><rect x="347" y="267" width="3" height="13" fill="#fff"/>
<rect x="356" y="261" width="1" height="29" fill="#000"/>
<rect x="354" y="265" width="5" height="7" fill="#000"/>
<rect x="364" y="202" width="1" height="69" fill="#000"/>
<rect x="362" y="212" width="5" height="59" fill="#000"/><rect x="363" y="213" width="3" height="57" fill="#fff"/>
<rect x="372" y="191" width="1" height="34" fill="#000"/>
<rect x="370" y="191" width="5" height="21" fill="#000"/><rect x="371" y="192" width="3" height="19" fill="#fff"/>
<rect x="380" y="145" width="1" height="59" fill="#000"/>
<rect x="378" y="156" width="5" height="37" fill="#000"/><rect x="379" y="157" width="3" height="35" fill="#fff"/>
<rect x="388" y="150" width="1" height="42" fill="#000"/>
<rect x="386" y="158" width="5" height="2" fill="#000"/>
<rect x="396" y="150" width="1" height="21" fill="#000"/>
<rect x="394" y="158" width="5" height="2" fill="#000"/>
<rect x="404" y="149" width="1" height="41" fill="#000"/>
<rect x="402" y="158" width="5" height="26" fill="#000"/>
<rect x="412" y="180" width="1" height="57" fill="#000"/>
<rect x="410" y="184" width="5" height="38" fill="#000"/>
<rect x="420" y="216" width="1" height="107" fill="#000"/>
<rect x="418" y="221" width="5" height="68" fill="#000"/>
<rect x="428" y="273" width="1" height="50" fill="#000"/>
<rect x="426" y="278" width="5" height="11" fill="#000"/><rect x="427" y="279" width="3" height="9" fill="#fff"/>
<rect x="436" y="270" width="1" height="63" fill="#000"/>
<rect x="434" y="277" width="5" height="17" fill="#000"/>
<rect x="444" y="265" width="1" height="50" fill="#000"/>
<rect x="442" y="295" width="5" height="13" fill="#000"/>
<rect x="452" y="272" width="1" height="38" fill="#000"/>
<rect x="450" y="281" width="5" height="27" fill="#000"/><rect x="451" y="282" width="3" height="25" fill="#fff"/>
<rect x="460" y="229" width="1" height="60" fill="#000"/>
<rect x="458" y="263" width="5" height="17" fill="#000"/><rect x="459" y="264" width="3" height="15" fill="#fff"/>
<rect x="468" y="257" width="1" height="27" fill="#000"/>
<rect x="466" y="262" width="5" height="4" fill="#000"/>
<rect x="476" y="260" width="1" height="13" fill="#000"/>
<rect x="474" y="262" width="5" height="4" fill="#000"/><rect x="475" y="263" width="3" height="2" fill="#fff"/>
<rect x="484" y="243" width="1" height="26" fill="#000"/>
<rect x="482" y="249" width="5" height="14" fill="#000"/><rect x="483" y="250" width="3" height="12" fill="#fff"/>
<rect x="492" y="246" width="1" height="15" fill="#000"/>
<rect x="490" y="248" width="5" height="2" fill="#000"/>
<rect x="500" y="219" width="1" height="124" fill="#000"/>
<rect x="498" y="249" width="5" height="90" fill="#000"/>
<rect x="508" y="300" width="1" height="82" fill="#000"/>
<rect x="506" y="335" width="5" height="4" fill="#000"/><rect x="507" y="336" width="3" height="2" fill="#fff"/>
<rect x="516" y="309" width="1" height="50" fill="#000"/>
<rect x="514" y="322" width="5" height="13" fill="#000"/><rect x="515" y="323" width="3" height="11" fill="#fff"/>
<rect x="524" y="287" width="1" height="22" fill="#000"/>
<rect x="522" y="287" width="5" height="18" fill="#000"/><rect x="523" y="288" width="3" height="16" fill="#fff"/>
<rect x="532" y="274" width="1" height="34" fill="#000"/>
<rect x="530" y="290" width="5" height="2" fill="#000"/>
<rect x="540" y="265" width="1" height="28" fill="#000"/>
<rect x="538" y="274" width="5" height="18" fill="#000"/><rect x="539" y="275" width="3" height="16" fill="#fff"/>
<rect x="548" y="267" width="1" height="33" fill="#000"/>
<rect x="546" y="273" width="5" height="19" fill="#000"/>
<rect x="556" y="182" width="1" height="118" fill="#000"/>
<rect x="554" y="186" width="5" height="106" fill="#000"/><rect x="555" y="187" width="3" height="104" fill="#fff"/>
<rect x="564" y="148" width="1" height="59" fill="#000"/>
<rect x="562" y="150" width="5" height="35" fill="#000"/><rect x="563" y="151" width="3" height="33" fill="#fff"/>
<rect x="572" y="147" width="1" height="30" fill="#000"/>
<rect x="570" y="150" width="5" height="27" fill="#000"/>
<rect x="580" y="116" width="1" height="70" fill="#000"/>
<rect x="578" y="127" width="5" height="48" fill="#000"/><rect x="579" y="128" width="3" height="46" fill="#fff"/>
<rect x="588" y="114" width="1" height="113" fill="#000"/>
<rect x="586" y="127" width="5" height="64" fill="#000"/>
<rect x="596" y="138" width="1" height="84" fill="#000"/>
<rect x="594" y="146" width="5" height="45" fill="#000"/><rect x="595" y="147" width="3" height="43" fill="#fff"/>
<rect x="604" y="123" width="1" height="45" fill="#000"/>
<rect x="602" y="144" width="5" height="3" fill="#000"/><rect x="603" y="145" width="3" height="1" fill="#fff"/>
<rect x="612" y="125" width="1" height="33" fill="#000"/>
<rect x="610" y="127" width="5" height="18" fill="#000"/><rect x="611" y="128" width="3" height="16" fill="#fff"/>
<rect x="620" y="102" width="1" height="32" fill="#000"/>
<rect x="618" y="116" width="5" height="11" fill="#000"/><rect x="619" y="117" width="3" height="9" fill="#fff"/>
<rect x="628" y="100" width="1" height="40" fill="#000"/>
<rect x="626" y="116" width="5" height="13" fill="#000"/>
<rect x="636" y="127" width="1" height="38" fill="#000"/>
<rect x="634" y="128" width="5" height="30" fill="#000"/>
<rect x="644" y="120" width="1" height="51" fill="#000"/>
<rect x="642" y="140" width="5" height="17" fill="#000"/><rect x="643" y="141" width="3" height="15" fill="#fff"/>
<rect x="652" y="60" width="1" height="84" fill="#000"/>
<rect x="650" y="64" width="5" height="76" fill="#000"/><rect x="651" y="65" width="3" height="74" fill="#fff"/>
<rect x="660" y="51" width="1" height="42" fill="#000"/>
<rect x="658" y="61" width="5" height="4" fill="#000"/><rect x="659" y="62" width="3" height="2" fill="#fff"/>
<rect x="668" y="60" width="1" height="18" fill="#000"/>
<rect x="666" y="60" width="5" height="10" fill="#000"/>
<rect x="676" y="63" width="1" height="26" fill="#000"/>
<rect x="674" y="69" width="5" height="8" fill="#000"/>
<rect x="684" y="66" width="1" height="22" fill="#000"/>
<rect x="682" y="75" width="5" height="2" fill="#000"/>
<rect x="692" y="74" width="1" height="14" fill="#000"/>
<rect x="690" y="76" width="5" height="6" fill="#000"/>
<rect x="700" y="73" width="1" height="26" fill="#000"/>
<rect x="698" y="78" width="5" height="4" fill="#000"/><rect x="699" y="79" width="3" height="2" fill="#fff"/>
<rect x="708" y="73" width="1" height="11" fill="#000"/>
<rect x="706" y="77" width="5" height="2" fill="#000"/>
<rect x="716" y="75" width="1" height="59" fill="#000"/>
<rect x="714" y="76" width="5" height="52" fill="#000"/>
<rect x="724" y="121" width="1" height="88" fill="#000"/>
<rect x="722" y="127" width="5" height="67" fill="#000"/>
<rect x="732" y="177" width="1" height="110" fill="#000"/>
<rect x="730" y="193" width="5" height="91" fill="#000"/>
<rect x="740" y="239" width="1" height="131" fill="#000"/>
<rect x="738" y="283" width="5" height="44" fill="#000"/>
<rect x="748" y="275" width="1" height="199" fill="#000"/>
<rect x="746" y="327" width="5" height="125" fill="#000"/>
<rect x="756" y="386" width="1" height="88" fill="#000"/>
<rect x="754" y="451" width="5" height="4" fill="#000"/>
<rect x="764" y="334" width="1" height="82" fill="#000"/>
<rect x="762" y="359" width="5" height="37" fill="#000"/><rect x="763" y="360" width="3" height="35" fill="#fff"/>
<rect x="772" y="332" width="1" height="76" fill="#000"/>
<rect x="770" y="356" width="5" height="11" fill="#000"/>
<rect x="780" y="355" width="1" height="127" fill="#000"/>
<rect x="778" y="366" width="5" height="17" fill="#000"/>
<rect x="788" y="373" width="1" height="69" fill="#000"/>
<rect x="786" y="383" width="5" height="24" fill="#000"/>
<rect x="796" y="318" width="1" height="94" fill="#000"/>
<rect x="794" y="376" width="5" height="31" fill="#000"/><rect x="795" y="377" width="3" height="29" fill="#fff"/>
<rect x="804" y="340" width="1" height="39" fill="#000"/>
<rect x="802" y="360" width="5" height="17" fill="#000"/><rect x="803" y="361" width="3" height="15" fill="#fff"/>
<rect x="812" y="338" width="1" height="56" fill="#000"/>
<rect x="810" y="344" width="5" height="17" fill="#000"/><rect x="811" y="345" width="3" height="15" fill="#fff"/>
<rect x="820" y="329" width="1" height="48" fill="#000"/>
<rect x="818" y="345" width="5" height="25" fill="#000"/>
<rect x="828" y="368" width="1" height="123" fill="#000"/>
<rect x="826" y="369" width="5" height="83" fill="#000"/>
<rect x="836" y="448" width="1" height="89" fill="#000"/>
<rect x="834" y="451" width="5" height="19" fill="#000"/>
<rect x="844" y="379" width="1" height="185" fill="#000"/>
<rect x="842" y="392" width="5" height="78" fill="#000"/><rect x="843" y="393" width="3" height="76" fill="#fff"/>
<rect x="852" y="362" width="1" height="121" fill="#000"/>
<rect x="850" y="392" width="5" height="73" fill="#000"/>
<rect x="860" y="426" width="1" height="57" fill="#000"/>
<rect x="858" y="430" width="5" height="35" fill="#000"/><rect x="859" y="431" width="3" height="33" fill="#fff"/>
<rect x="868" y="388" width="1" height="78" fill="#000"/>
<rect x="866" y="409" width="5" height="24" fill="#000"/><rect x="867" y="410" width="3" height="22" fill="#fff"/>
<rect x="876" y="375" width="1" height="44" fill="#000"/>
<rect x="874" y="409" width="5" height="2" fill="#000"/>
<rect x="884" y="381" width="1" height="53" fill="#000"/>
<rect x="882" y="409" width="5" height="9" fill="#000"/>
<rect x="892" y="409" width="1" height="117" fill="#000"/>
<rect x="890" y="417" width="5" height="70" fill="#000"/>
<rect x="900" y="467" width="1" height="72" fill="#000"/>
<rect x="898" y="486" width="5" height="33" fill="#000"/>
<rect x="908" y="495" width="1" height="31" fill="#000"/>
<rect x="906" y="502" width="5" height="17" fill="#000"/><rect x="907" y="503" width="3" height="15" fill="#fff"/>
<rect x="916" y="465" width="1" height="49" fill="#000"/>
<rect x="914" y="472" width="5" height="31" fill="#000"/><rect x="915" y="473" width="3" height="29" fill="#fff"/>
<rect x="924" y="425" width="1" height="61" fill="#000"/>
<rect x="922" y="435" width="5" height="37" fill="#000"/><rect x="923" y="436" width="3" height="35" fill="#fff"/>
<rect x="932" y="431" width="1" height="71" fill="#000"/>
<rect x="930" y="435" width="5" height="60" fill="#000"/>
<rect x="940" y="481" width="1" height="52" fill="#000"/>
<rect x="938" y="488" width="5" height="5" fill="#000"/><rect x="939" y="489" width="3" height="3" fill="#fff"/>
<rect x="948" y="442" width="1" height="53" fill="#000"/>
<rect x="946" y="453" width="5" height="37" fill="#000"/><rect x="947" y="454" width="3" height="35" fill="#fff"/>
<rect x="956" y="444" width="1" height="39" fill="#000"/>
<rect x="954" y="453" width="5" height="26" fill="#000"/>
<rect x="964" y="447" width="1" height="43" fill="#000"/>
<rect x="962" y="451" width="5" height="29" fill="#000"/><rect x="963" y="452" width="3" height="27" fill="#fff"/>
<rect x="972" y="413" width="1" height="46" fill="#000"/>
<rect x="970" y="418" width="5" height="32" fill="#000"/><rect x="971" y="419" width="3" height="30" fill="#fff"/>
<rect x="980" y="399" width="1" height="47" fill="#000"/>
<rect x="978" y="418" width="5" height="8" fill="#000"/>
<rect x="988" y="378" width="1" height="105" fill="#000"/>
<rect x="986" y="425" width="5" height="19" fill="#000"/>
<rect x="996" y="439" width="1" height="119" fill="#000"/>
<rect x="994" y="444" width="5" height="104" fill="#000"/>
<rect x="1004" y="469" width="1" height="35" fill="#000"/>
<rect x="1002" y="475" width="5" height="29" fill="#000"/><rect x="1003" y="476" width="3" height="27" fill="#fff"/>
<rect x="1012" y="471" width="1" height="37" fill="#000"/>
<rect x="1010" y="476" width="5" height="7" fill="#000"/>
<rect x="1020" y="450" width="1" height="36" fill="#000"/>
<rect x="1018" y="457" width="5" height="25" fill="#000"/><rect x="1019" y="458" width="3" height="23" fill="#fff"/>
<rect x="1028" y="418" width="1" height="46" fill="#000"/>
<rect x="1026" y="447" width="5" height="10" fill="#000"/><rect x="1027" y="448" width="3" height="8" fill="#fff"/>
<rect x="1036" y="399" width="1" height="72" fill="#000"/>
<rect x="1034" y="407" width="5" height="40" fill="#000"/><rect x="1035" y="408" width="3" height="38" fill="#fff"/>
<rect x="1044" y="387" width="1" height="45" fill="#000"/>
<rect x="1042" y="399" width="5" height="6" fill="#000"/><rect x="1043" y="400" width="3" height="4" fill="#fff"/>
<rect x="1052" y="394" width="1" height="14" fill="#000"/>
<rect x="1050" y="398" width="5" height="4" fill="#000"/>
<rect x="1060" y="381" width="1" height="34" fill="#000"/>
<rect x="1058" y="387" width="5" height="15" fill="#000"/><rect x="1059" y="388" width="3" height="13" fill="#fff"/>
<rect x="1068" y="355" width="1" height="32" fill="#000"/>
<rect x="1066" y="373" width="5" height="14" fill="#000"/><rect x="1067" y="374" width="3" height="12" fill="#fff"/>
<rect x="1076" y="356" width="1" height="41" fill="#000"/>
<rect x="1074" y="373" width="5" height="14" fill="#000"/>
<rect x="1084" y="349" width="1" height="55" fill="#000"/>
<rect x="1082" y="369" width="5" height="18" fill="#000"/><rect x="1083" y="370" width="3" height="16" fill="#fff"/>
<rect x="1092" y="356" width="1" height="36" fill="#000"/>
<rect x="1090" y="369" width="5" height="6" fill="#000"/>
<rect x="1100" y="372" width="1" height="31" fill="#000"/>
<rect x="1098" y="375" width="5" height="18" fill="#000"/>
<rect x="1108" y="384" width="1" height="37" fill="#000"/>
<rect x="1106" y="392" width="5" height="10" fill="#000"/>
<rect x="1116" y="390" width="1" height="37" fill="#000"/>
<rect x="1114" y="401" width="5" height="10" fill="#000"/>
<rect x="1124" y="346" width="1" height="84" fill="#000"/>
<rect x="1122" y="364" width="5" height="48" fill="#000"/><rect x="1123" y="365" width="3" height="46" fill="#fff"/>
<rect x="1132" y="319" width="1" height="52" fill="#000"/>
<rect x="1130" y="331" width="5" height="32" fill="#000"/><rect x="1131" y="332" width="3" height="30" fill="#fff"/>
<rect x="1140" y="324" width="1" height="57" fill="#000"/>
<rect x="1138" y="331" width="5" height="37" fill="#000"/>
<rect x="1148" y="356" width="1" height="21" fill="#000"/>
<rect x="1146" y="365" width="5" height="4" fill="#000"/><rect x="1147" y="366" width="3" height="2" fill="#fff"/>
<rect x="1156" y="343" width="1" height="30" fill="#000"/>
<rect x="1154" y="363" width="5" height="7" fill="#000"/>
<rect x="1164" y="363" width="1" height="40" fill="#000"/>
<rect x="1162" y="369" width="5" height="30" fill="#000"/>
<rect x="1172" y="382" width="1" height="41" fill="#000"/>
<rect x="1170" y="397" width="5" height="2" fill="#000"/>
<rect x="1180" y="387" width="1" height="49" fill="#000"/>
<rect x="1178" y="396" width="5" height="12" fill="#000"/>
<rect x="1188" y="370" width="1" height="43" fill="#000"/>
<rect x="1186" y="401" width="5" height="6" fill="#000"/><rect x="1187" y="402" width="3" height="4" fill="#fff"/>
<rect x="1196" y="398" width="1" height="20" fill="#000"/>
<rect x="1194" y="401" width="5" height="7" fill="#000"/>
<rect x="1204" y="384" width="1" height="42" fill="#000"/>
<rect x="1202" y="392" width="5" height="16" fill="#000"/><rect x="1203" y="393" width="3" height="14" fill="#fff"/>
<rect x="1212" y="375" width="1" height="36" fill="#000"/>
<rect x="1210" y="383" width="5" height="9" fill="#000"/><rect x="1211" y="384" width="3" height="7" fill="#fff"/>
<rect x="1220" y="347" width="1" height="40" fill="#000"/>
<rect x="1218" y="351" width="5" height="32" fill="#000"/><rect x="1219" y="352" width="3" height="30" fill="#fff"/>
<rect x="1228" y="349" width="1" height="85" fill="#000"/>
<rect x="1226" y="351" width="5" height="59" fill="#000"/>
<rect x="1236" y="402" width="1" height="43" fill="#000"/>
<rect x="1234" y="409" width="5" height="2" fill="#000"/>
<rect x="1244" y="395" width="1" height="19" fill="#000"/>
<rect x="1242" y="395" width="5" height="14" fill="#000"/><rect x="1243" y="396" width="3" height="12" fill="#fff"/>
<rect x="1252" y="384" width="1" height="16" fill="#000"/>
<rect x="1250" y="388" width="5" height="7" fill="#000"/><rect x="1251" y="389" width="3" height="5" fill="#fff"/>
<rect x="1260" y="381" width="1" height="26" fill="#000"/>
<rect x="1258" y="388" width="5" height="2" fill="#000"/>
<rect x="1268" y="359" width="1" height="33" fill="#000"/>
<rect x="1266" y="373" width="5" height="17" fill="#000"/><rect x="1267" y="374" width="3" height="15" fill="#fff"/>
<rect x="1276" y="366" width="1" height="40" fill="#000"/>
<rect x="1274" y="373" width="5" height="12" fill="#000"/>
<rect x="1284" y="380" width="1" height="39" fill="#000"/>
<rect x="1282" y="385" width="5" height="8" fill="#000"/>
<rect x="1292" y="378" width="1" height="21" fill="#000"/>
<rect x="1290" y="384" width="5" height="8" fill="#000"/><rect x="1291" y="385" width="3" height="6" fill="#fff"/>
<rect x="1300" y="368" width="1" height="34" fill="#000"/>
<rect x="1298" y="379" width="5" height="5" fill="#000"/><rect x="1299" y="380" width="3" height="3" fill="#fff"/>
<rect x="1308" y="357" width="1" height="33" fill="#000"/>
<rect x="1306" y="361" width="5" height="17" fill="#000"/><rect x="1307" y="362" width="3" height="15" fill="#fff"/>
<rect x="1316" y="353" width="1" height="49" fill="#000"/>
<rect x="1314" y="360" width="5" height="31" fill="#000"/>
<rect x="1324" y="356" width="1" height="54" fill="#000"/>
<rect x="1322" y="360" width="5" height="31" fill="#000"/><rect x="1323" y="361" width="3" height="29" fill="#fff"/>
<rect x="1332" y="353" width="1" height="27" fill="#000"/>
<rect x="1330" y="355" width="5" height="3" fill="#000"/><rect x="1331" y="356" width="3" height="1" fill="#fff"/>
<rect x="1340" y="352" width="1" height="36" fill="#000"/>
<rect x="1338" y="355" width="5" height="2" fill="#000"/>
<rect x="1348" y="345" width="1" height="22" fill="#000"/>
<rect x="1346" y="351" width="5" height="4" fill="#000"/><rect x="1347" y="352" width="3" height="2" fill="#fff"/>
<rect x="1356" y="350" width="1" height="25" fill="#000"/>
<rect x="1354" y="350" width="5" height="9" fill="#000"/>
<rect x="1364" y="339" width="1" height="31" fill="#000"/>
<rect x="1362" y="345" width="5" height="13" fill="#000"/><rect x="1363" y="346" width="3" height="11" fill="#fff"/>
<rect x="1372" y="328" width="1" height="26" fill="#000"/>
<rect x="1370" y="338" width="5" height="7" fill="#000"/><rect x="1371" y="339" width="3" height="5" fill="#fff"/>
<rect x="1380" y="266" width="1" height="85" fill="#000"/>
<rect x="1378" y="308" width="5" height="30" fill="#000"/><rect x="1379" y="309" width="3" height="28" fill="#fff"/>
<rect x="1388" y="280" width="1" height="40" fill="#000"/>
<rect x="1386" y="287" width="5" height="21" fill="#000"/><rect x="1387" y="288" width="3" height="19" fill="#fff"/>
<rect x="1396" y="270" width="1" height="36" fill="#000"/>
<rect x="1394" y="287" width="5" height="2" fill="#000"/>
<rect x="1404" y="274" width="1" height="30" fill="#000"/>
<rect x="1402" y="288" width="5" height="4" fill="#000"/>
<rect x="1412" y="278" width="1" height="23" fill="#000"/>
<rect x="1410" y="282" width="5" height="10" fill="#000"/><rect x="1411" y="283" width="3" height="8" fill="#fff"/>
<rect x="1420" y="277" width="1" height="110" fill="#000"/>
<rect x="1418" y="281" width="5" height="73" fill="#000"/>
<rect x="1428" y="354" width="1" height="29" fill="#000"/>
<rect x="1426" y="354" width="5" height="26" fill="#000"/>
<rect x="1436" y="363" width="1" height="21" fill="#000"/>
<rect x="1434" y="363" width="5" height="17" fill="#000"/><rect x="1435" y="364" width="3" height="15" fill="#fff"/>
</g>
<rect x="1385" y="342" width="123" height="6" fill="#00ff00" shape-rendering="crispEdges"/>
<rect x="589.5" y="42.5" width="61.0" height="18.0" fill="#fff" stroke="#ff0000" stroke-width="1" shape-rendering="crispEdges"/><text x="592.0" y="57.8" font-size="17.5" fill="#ff0000" textLength="57.0" lengthAdjust="spacingAndGlyphs">115.514</text><rect x="651" y="51" width="9" height="1" fill="#ff0000" shape-rendering="crispEdges"/>
<rect x="773.5" y="554.5" width="61.0" height="18.0" fill="#fff" stroke="#ff0000" stroke-width="1" shape-rendering="crispEdges"/><text x="776.0" y="569.8" font-size="17.5" fill="#ff0000" textLength="57.0" lengthAdjust="spacingAndGlyphs">112.522</text><rect x="835" y="563" width="9" height="1" fill="#ff0000" shape-rendering="crispEdges"/>
<rect x="925.5" y="550.5" width="61.0" height="18.0" fill="#fff" stroke="#ff0000" stroke-width="1" shape-rendering="crispEdges"/><text x="928.0" y="565.8" font-size="17.5" fill="#ff0000" textLength="57.0" lengthAdjust="spacingAndGlyphs">112.545</text><rect x="987" y="559" width="9" height="1" fill="#ff0000" shape-rendering="crispEdges"/>
<rect x="1061.5" y="309.5" width="61.0" height="18.0" fill="#fff" stroke="#ff0000" stroke-width="1" shape-rendering="crispEdges"/><text x="1064.0" y="324.8" font-size="17.5" fill="#ff0000" textLength="57.0" lengthAdjust="spacingAndGlyphs">113.951</text><rect x="1123" y="318" width="9" height="1" fill="#ff0000" shape-rendering="crispEdges"/>
<rect x="1309.5" y="257.5" width="61.0" height="18.0" fill="#fff" stroke="#ff0000" stroke-width="1" shape-rendering="crispEdges"/><text x="1312.0" y="272.8" font-size="17.5" fill="#ff0000" textLength="57.0" lengthAdjust="spacingAndGlyphs">114.254</text><rect x="1371" y="266" width="9" height="1" fill="#ff0000" shape-rendering="crispEdges"/>
<rect x="1239.5" y="334.5" width="73.0" height="24.0" fill="#fff" stroke="#ff0000" stroke-width="1" shape-rendering="crispEdges"/><text x="1242.0" y="355.8" font-size="23.5" fill="#ff0000" textLength="69.5" lengthAdjust="spacingAndGlyphs">113.787</text><rect x="1229" y="346" width="8" height="1" fill="#ff0000" shape-rendering="crispEdges"/>
<rect x="1236.500" y="344.500" width="3" height="3" fill="#fff" stroke="#ff0000" shape-rendering="crispEdges"/>
<g shape-rendering="crispEdges">
</g>
<text x="1653.5" y="50.1" font-size="10.0" fill="#000" textLength="32.0" lengthAdjust="spacingAndGlyphs">115.540</text>
<text x="1653.5" y="83.1" font-size="10.0" fill="#000" textLength="32.0" lengthAdjust="spacingAndGlyphs">115.345</text>
<text x="1653.5" y="116.1" font-size="10.0" fill="#000" textLength="32.0" lengthAdjust="spacingAndGlyphs">115.155</text>
<text x="1653.5" y="149.1" font-size="10.0" fill="#000" textLength="32.0" lengthAdjust="spacingAndGlyphs">114.960</text>
<text x="1653.5" y="182.1" font-size="10.0" fill="#000" textLength="32.0" lengthAdjust="spacingAndGlyphs">114.770</text>
<text x="1653.5" y="215.1" font-size="10.0" fill="#000" textLength="32.0" lengthAdjust="spacingAndGlyphs">114.575</text>
<text x="1653.5" y="248.1" font-size="10.0" fill="#000" textLength="32.0" lengthAdjust="spacingAndGlyphs">114.385</text>
<text x="1653.5" y="281.1" font-size="10.0" fill="#000" textLength="32.0" lengthAdjust="spacingAndGlyphs">114.190</text>
<text x="1653.5" y="314.1" font-size="10.0" fill="#000" textLength="32.0" lengthAdjust="spacingAndGlyphs">113.995</text>
<text x="1653.5" y="380.1" font-size="10.0" fill="#000" textLength="32.0" lengthAdjust="spacingAndGlyphs">113.610</text>
<text x="1653.5" y="413.1" font-size="10.0" fill="#000" textLength="32.0" lengthAdjust="spacingAndGlyphs">113.420</text>
<text x="1653.5" y="446.1" font-size="10.0" fill="#000" textLength="32.0" lengthAdjust="spacingAndGlyphs">113.225</text>
<text x="1653.5" y="479.1" font-size="10.0" fill="#000" textLength="32.0" lengthAdjust="spacingAndGlyphs">113.035</text>
<text x="1653.5" y="512.1" font-size="10.0" fill="#000" textLength="32.0" lengthAdjust="spacingAndGlyphs">112.840</text>
<text x="1653.5" y="545.1" font-size="10.0" fill="#000" textLength="32.0" lengthAdjust="spacingAndGlyphs">112.645</text>
<text x="1653.5" y="578.1" font-size="10.0" fill="#000" textLength="32.0" lengthAdjust="spacingAndGlyphs">112.455</text>
<g shape-rendering="crispEdges">
<rect x="1649" y="288" width="41" height="11" fill="#ff0000"/>
<rect x="1642.500" y="292.5" width="4" height="4" fill="#fff" stroke="#ff0000"/>
<rect x="1649" y="312" width="41" height="11" fill="#ff0000"/>
<rect x="1642.500" y="316.5" width="4" height="4" fill="#fff" stroke="#ff0000"/>
<rect x="1649" y="340" width="41" height="11" fill="#32cd32"/>
<rect x="1642.500" y="344.5" width="4" height="4" fill="#fff" stroke="#32cd32"/>
<rect x="1649" y="358" width="41" height="11" fill="#000000"/>
<rect x="1649" y="389" width="41" height="11" fill="#0000ff"/>
<rect x="1642.500" y="393.5" width="4" height="4" fill="#fff" stroke="#0000ff"/>
<rect x="1649" y="414" width="41" height="11" fill="#0000ff"/>
<rect x="1642.500" y="418.5" width="4" height="4" fill="#fff" stroke="#0000ff"/>
</g>
<text x="1653.5" y="297.0" font-size="10.0" fill="#fff" textLength="32.0" lengthAdjust="spacingAndGlyphs">114.091</text>
<text x="1653.5" y="321.0" font-size="10.0" fill="#fff" textLength="32.0" lengthAdjust="spacingAndGlyphs">113.951</text>
<text x="1653.5" y="349.0" font-size="10.0" fill="#fff" textLength="32.0" lengthAdjust="spacingAndGlyphs">113.787</text>
<text x="1653.5" y="367.0" font-size="10.0" fill="#fff" textLength="32.0" lengthAdjust="spacingAndGlyphs">113.686</text>
<text x="1653.5" y="398.0" font-size="10.0" fill="#fff" textLength="32.0" lengthAdjust="spacingAndGlyphs">113.502</text>
<text x="1653.5" y="423.0" font-size="10.0" fill="#fff" textLength="32.0" lengthAdjust="spacingAndGlyphs">113.356</text>
<text x="1651.5" y="590.6" font-size="10.0" fill="#000" textLength="27.1" lengthAdjust="spacingAndGlyphs">0.3161</text>
<text x="1651.5" y="657.1" font-size="10.0" fill="#000" textLength="17.2" lengthAdjust="spacingAndGlyphs">0.00</text>
<text x="1651.5" y="746.2" font-size="10.0" fill="#000" textLength="30.0" lengthAdjust="spacingAndGlyphs">-0.4115</text>
<text x="1651.5" y="762.6" font-size="10.0" fill="#000" textLength="14.8" lengthAdjust="spacingAndGlyphs">100</text>
<text x="1651.5" y="791.1" font-size="10.0" fill="#000" textLength="9.8" lengthAdjust="spacingAndGlyphs">80</text>
<text x="1651.5" y="842.1" font-size="10.0" fill="#000" textLength="9.8" lengthAdjust="spacingAndGlyphs">50</text>
<text x="1651.5" y="903.1" font-size="10.0" fill="#000" textLength="9.8" lengthAdjust="spacingAndGlyphs">15</text>
<text x="1651.5" y="921.6" font-size="10.0" fill="#000" textLength="4.9" lengthAdjust="spacingAndGlyphs">0</text>
<g shape-rendering="crispEdges" clip-path="url(#c2)">
<rect x="4" y="654" width="1" height="7" fill="#c0c0c0"/>
<rect x="12" y="654" width="1" height="7" fill="#c0c0c0"/>
<rect x="20" y="654" width="1" height="7" fill="#c0c0c0"/>
<rect x="28" y="654" width="1" height="13" fill="#c0c0c0"/>
<rect x="36" y="654" width="1" height="19" fill="#c0c0c0"/>
<rect x="44" y="654" width="1" height="23" fill="#c0c0c0"/>
<rect x="52" y="654" width="1" height="21" fill="#c0c0c0"/>
<rect x="60" y="654" width="1" height="23" fill="#c0c0c0"/>
<rect x="68" y="654" width="1" height="23" fill="#c0c0c0"/>
<rect x="76" y="654" width="1" height="30" fill="#c0c0c0"/>
<rect x="84" y="654" width="1" height="35" fill="#c0c0c0"/>
<rect x="92" y="654" width="1" height="36" fill="#c0c0c0"/>
<rect x="100" y="654" width="1" height="45" fill="#c0c0c0"/>
<rect x="108" y="654" width="1" height="52" fill="#c0c0c0"/>
<rect x="116" y="654" width="1" height="54" fill="#c0c0c0"/>
<rect x="124" y="654" width="1" height="56" fill="#c0c0c0"/>
<rect x="132" y="654" width="1" height="59" fill="#c0c0c0"/>
<rect x="140" y="654" width="1" height="57" fill="#c0c0c0"/>
<rect x="148" y="654" width="1" height="59" fill="#c0c0c0"/>
<rect x="156" y="654" width="1" height="54" fill="#c0c0c0"/>
<rect x="164" y="654" width="1" height="47" fill="#c0c0c0"/>
<rect x="172" y="654" width="1" height="29" fill="#c0c0c0"/>
<rect x="180" y="654" width="1" height="15" fill="#c0c0c0"/>
<rect x="188" y="654" width="1" height="3" fill="#c0c0c0"/>
<rect x="196" y="647" width="1" height="7" fill="#c0c0c0"/>
<rect x="204" y="637" width="1" height="17" fill="#c0c0c0"/>
<rect x="212" y="631" width="1" height="23" fill="#c0c0c0"/>
<rect x="220" y="627" width="1" height="27" fill="#c0c0c0"/>
<rect x="228" y="621" width="1" height="33" fill="#c0c0c0"/>
<rect x="236" y="619" width="1" height="35" fill="#c0c0c0"/>
<rect x="244" y="613" width="1" height="41" fill="#c0c0c0"/>
<rect x="252" y="613" width="1" height="41" fill="#c0c0c0"/>
<rect x="260" y="613" width="1" height="41" fill="#c0c0c0"/>
<rect x="268" y="615" width="1" height="39" fill="#c0c0c0"/>
<rect x="276" y="617" width="1" height="37" fill="#c0c0c0"/>
<rect x="284" y="619" width="1" height="35" fill="#c0c0c0"/>
<rect x="292" y="624" width="1" height="30" fill="#c0c0c0"/>
<rect x="300" y="625" width="1" height="29" fill="#c0c0c0"/>
<rect x="308" y="629" width="1" height="25" fill="#c0c0c0"/>
<rect x="316" y="630" width="1" height="24" fill="#c0c0c0"/>
<rect x="324" y="629" width="1" height="25" fill="#c0c0c0"/>
<rect x="332" y="628" width="1" height="26" fill="#c0c0c0"/>
<rect x="340" y="625" width="1" height="29" fill="#c0c0c0"/>
<rect x="348" y="623" width="1" height="31" fill="#c0c0c0"/>
<rect x="356" y="622" width="1" height="32" fill="#c0c0c0"/>
<rect x="364" y="615" width="1" height="39" fill="#c0c0c0"/>
<rect x="372" y="608" width="1" height="46" fill="#c0c0c0"/>
<rect x="380" y="599" width="1" height="55" fill="#c0c0c0"/>
<rect x="388" y="593" width="1" height="61" fill="#c0c0c0"/>
<rect x="396" y="589" width="1" height="65" fill="#c0c0c0"/>
<rect x="404" y="589" width="1" height="65" fill="#c0c0c0"/>
<rect x="412" y="594" width="1" height="60" fill="#c0c0c0"/>
<rect x="420" y="606" width="1" height="48" fill="#c0c0c0"/>
<rect x="428" y="615" width="1" height="39" fill="#c0c0c0"/>
<rect x="436" y="624" width="1" height="30" fill="#c0c0c0"/>
<rect x="444" y="633" width="1" height="21" fill="#c0c0c0"/>
<rect x="452" y="637" width="1" height="17" fill="#c0c0c0"/>
<rect x="460" y="639" width="1" height="15" fill="#c0c0c0"/>
<rect x="468" y="640" width="1" height="14" fill="#c0c0c0"/>
<rect x="476" y="642" width="1" height="12" fill="#c0c0c0"/>
<rect x="484" y="641" width="1" height="13" fill="#c0c0c0"/>
<rect x="492" y="641" width="1" height="13" fill="#c0c0c0"/>
<rect x="500" y="651" width="1" height="3" fill="#c0c0c0"/>
<rect x="508" y="654" width="1" height="3" fill="#c0c0c0"/>
<rect x="516" y="654" width="1" height="7" fill="#c0c0c0"/>
<rect x="524" y="654" width="1" height="7" fill="#c0c0c0"/>
<rect x="532" y="654" width="1" height="7" fill="#c0c0c0"/>
<rect x="540" y="654" width="1" height="5" fill="#c0c0c0"/>
<rect x="548" y="654" width="1" height="5" fill="#c0c0c0"/>
<rect x="556" y="649" width="1" height="5" fill="#c0c0c0"/>
<rect x="564" y="636" width="1" height="18" fill="#c0c0c0"/>
<rect x="572" y="629" width="1" height="25" fill="#c0c0c0"/>
<rect x="580" y="619" width="1" height="35" fill="#c0c0c0"/>
<rect x="588" y="618" width="1" height="36" fill="#c0c0c0"/>
<rect x="596" y="613" width="1" height="41" fill="#c0c0c0"/>
<rect x="604" y="609" width="1" height="45" fill="#c0c0c0"/>
<rect x="612" y="605" width="1" height="49" fill="#c0c0c0"/>
<rect x="620" y="601" width="1" height="53" fill="#c0c0c0"/>
<rect x="628" y="600" width="1" height="54" fill="#c0c0c0"/>
<rect x="636" y="603" width="1" height="51" fill="#c0c0c0"/>
<rect x="644" y="604" width="1" height="50" fill="#c0c0c0"/>
<rect x="652" y="597" width="1" height="57" fill="#c0c0c0"/>
<rect x="660" y="592" width="1" height="62" fill="#c0c0c0"/>
<rect x="668" y="590" width="1" height="64" fill="#c0c0c0"/>
<rect x="676" y="589" width="1" height="65" fill="#c0c0c0"/>
<rect x="684" y="590" width="1" height="64" fill="#c0c0c0"/>
<rect x="692" y="591" width="1" height="63" fill="#c0c0c0"/>
<rect x="700" y="593" width="1" height="61" fill="#c0c0c0"/>
<rect x="708" y="595" width="1" height="59" fill="#c0c0c0"/>
<rect x="716" y="602" width="1" height="52" fill="#c0c0c0"/>
<rect x="724" y="616" width="1" height="38" fill="#c0c0c0"/>
<rect x="732" y="637" width="1" height="17" fill="#c0c0c0"/>
<rect x="740" y="654" width="1" height="3" fill="#c0c0c0"/>
<rect x="748" y="654" width="1" height="33" fill="#c0c0c0"/>
<rect x="756" y="654" width="1" height="56" fill="#c0c0c0"/>
<rect x="764" y="654" width="1" height="64" fill="#c0c0c0"/>
<rect x="772" y="654" width="1" height="70" fill="#c0c0c0"/>
<rect x="780" y="654" width="1" height="75" fill="#c0c0c0"/>
<rect x="788" y="654" width="1" height="81" fill="#c0c0c0"/>
<rect x="796" y="654" width="1" height="82" fill="#c0c0c0"/>
<rect x="804" y="654" width="1" height="80" fill="#c0c0c0"/>
<rect x="812" y="654" width="1" height="76" fill="#c0c0c0"/>
<rect x="820" y="654" width="1" height="75" fill="#c0c0c0"/>
<rect x="828" y="654" width="1" height="81" fill="#c0c0c0"/>
<rect x="836" y="654" width="1" height="87" fill="#c0c0c0"/>
<rect x="844" y="654" width="1" height="83" fill="#c0c0c0"/>
<rect x="852" y="654" width="1" height="86" fill="#c0c0c0"/>
<rect x="860" y="654" width="1" height="84" fill="#c0c0c0"/>
<rect x="868" y="654" width="1" height="79" fill="#c0c0c0"/>
<rect x="876" y="654" width="1" height="74" fill="#c0c0c0"/>
<rect x="884" y="654" width="1" height="71" fill="#c0c0c0"/>
<rect x="892" y="654" width="1" height="75" fill="#c0c0c0"/>
<rect x="900" y="654" width="1" height="81" fill="#c0c0c0"/>
<rect x="908" y="654" width="1" height="82" fill="#c0c0c0"/>
<rect x="916" y="654" width="1" height="80" fill="#c0c0c0"/>
<rect x="924" y="654" width="1" height="72" fill="#c0c0c0"/>
<rect x="932" y="654" width="1" height="72" fill="#c0c0c0"/>
<rect x="940" y="654" width="1" height="70" fill="#c0c0c0"/>
<rect x="948" y="654" width="1" height="65" fill="#c0c0c0"/>
<rect x="956" y="654" width="1" height="62" fill="#c0c0c0"/>
<rect x="964" y="654" width="1" height="56" fill="#c0c0c0"/>
<rect x="972" y="654" width="1" height="48" fill="#c0c0c0"/>
<rect x="980" y="654" width="1" height="41" fill="#c0c0c0"/>
<rect x="988" y="654" width="1" height="38" fill="#c0c0c0"/>
<rect x="996" y="654" width="1" height="46" fill="#c0c0c0"/>
<rect x="1004" y="654" width="1" height="43" fill="#c0c0c0"/>
<rect x="1012" y="654" width="1" height="42" fill="#c0c0c0"/>
<rect x="1020" y="654" width="1" height="38" fill="#c0c0c0"/>
<rect x="1028" y="654" width="1" height="33" fill="#c0c0c0"/>
<rect x="1036" y="654" width="1" height="24" fill="#c0c0c0"/>
<rect x="1044" y="654" width="1" height="16" fill="#c0c0c0"/>
<rect x="1052" y="654" width="1" height="10" fill="#c0c0c0"/>
<rect x="1060" y="654" width="1" height="4" fill="#c0c0c0"/>
<rect x="1068" y="652" width="1" height="2" fill="#c0c0c0"/>
<rect x="1076" y="649" width="1" height="5" fill="#c0c0c0"/>
<rect x="1084" y="644" width="1" height="10" fill="#c0c0c0"/>
<rect x="1092" y="641" width="1" height="13" fill="#c0c0c0"/>
<rect x="1100" y="641" width="1" height="13" fill="#c0c0c0"/>
<rect x="1108" y="642" width="1" height="12" fill="#c0c0c0"/>
<rect x="1116" y="644" width="1" height="10" fill="#c0c0c0"/>
<rect x="1124" y="640" width="1" height="14" fill="#c0c0c0"/>
<rect x="1132" y="634" width="1" height="20" fill="#c0c0c0"/>
<rect x="1140" y="634" width="1" height="20" fill="#c0c0c0"/>
<rect x="1148" y="633" width="1" height="21" fill="#c0c0c0"/>
<rect x="1156" y="633" width="1" height="21" fill="#c0c0c0"/>
<rect x="1164" y="637" width="1" height="17" fill="#c0c0c0"/>
<rect x="1172" y="640" width="1" height="14" fill="#c0c0c0"/>
<rect x="1180" y="643" width="1" height="11" fill="#c0c0c0"/>
<rect x="1188" y="646" width="1" height="8" fill="#c0c0c0"/>
<rect x="1196" y="648" width="1" height="6" fill="#c0c0c0"/>
<rect x="1204" y="648" width="1" height="6" fill="#c0c0c0"/>
<rect x="1212" y="648" width="1" height="6" fill="#c0c0c0"/>
<rect x="1220" y="644" width="1" height="10" fill="#c0c0c0"/>
<rect x="1228" y="647" width="1" height="7" fill="#c0c0c0"/>
<rect x="1236" y="650" width="1" height="4" fill="#c0c0c0"/>
<rect x="1244" y="651" width="1" height="3" fill="#c0c0c0"/>
<rect x="1252" y="651" width="1" height="3" fill="#c0c0c0"/>
<rect x="1260" y="650" width="1" height="4" fill="#c0c0c0"/>
<rect x="1268" y="649" width="1" height="5" fill="#c0c0c0"/>
<rect x="1276" y="649" width="1" height="5" fill="#c0c0c0"/>
<rect x="1284" y="650" width="1" height="4" fill="#c0c0c0"/>
<rect x="1292" y="650" width="1" height="4" fill="#c0c0c0"/>
<rect x="1300" y="649" width="1" height="5" fill="#c0c0c0"/>
<rect x="1308" y="647" width="1" height="7" fill="#c0c0c0"/>
<rect x="1316" y="648" width="1" height="6" fill="#c0c0c0"/>
<rect x="1324" y="646" width="1" height="8" fill="#c0c0c0"/>
<rect x="1332" y="644" width="1" height="10" fill="#c0c0c0"/>
<rect x="1340" y="643" width="1" height="11" fill="#c0c0c0"/>
<rect x="1348" y="641" width="1" height="13" fill="#c0c0c0"/>
<rect x="1356" y="641" width="1" height="13" fill="#c0c0c0"/>
<rect x="1364" y="639" width="1" height="15" fill="#c0c0c0"/>
<rect x="1372" y="638" width="1" height="16" fill="#c0c0c0"/>
<rect x="1380" y="633" width="1" height="21" fill="#c0c0c0"/>
<rect x="1388" y="628" width="1" height="26" fill="#c0c0c0"/>
<rect x="1396" y="624" width="1" height="30" fill="#c0c0c0"/>
<rect x="1404" y="622" width="1" height="32" fill="#c0c0c0"/>
<rect x="1412" y="620" width="1" height="34" fill="#c0c0c0"/>
<rect x="1420" y="626" width="1" height="28" fill="#c0c0c0"/>
<rect x="1428" y="633" width="1" height="21" fill="#c0c0c0"/>
<rect x="1436" y="637" width="1" height="17" fill="#c0c0c0"/>
<polyline points="0.0,650.6 12.4,652.4 24.8,654.3 37.2,660.5 44.6,664.3 52.1,666.0 60.7,668.7 68.2,672.2 79.3,674.7 89.3,679.1 99.2,683.3 109.1,686.6 119.0,691.5 128.9,696.5 138.8,701.4 148.8,705.2 156.2,707.6 163.6,708.4 171.1,706.9 178.5,702.7 188.4,696.5 198.3,687.8 208.3,677.9 218.2,665.5 228.1,654.3 238.0,643.2 247.9,632.5 255.4,626.3 265.3,621.4 275.2,619.1 285.1,616.7 297.5,616.7 309.9,618.4 319.8,621.4 332.2,623.3 344.6,625.1 357.0,625.1 371.9,622.9 381.8,618.9 391.7,613.4 401.7,607.2 411.6,604.0 420.0,601.0 428.7,600.3 437.4,601.8 446.0,604.8 454.7,609.7 464.6,616.7 474.5,624.1 484.5,630.8 494.4,635.2 504.3,640.0 514.2,644.4 524.1,647.4 534.0,651.4 544.0,653.6 553.9,655.6 561.3,654.8 571.2,652.4 578.7,649.4 588.6,642.4 598.5,635.7 608.4,627.8 618.3,620.4 628.3,614.7 638.2,610.2 648.1,606.7 658.0,603.5 667.9,599.8 677.9,596.8 687.8,595.3 697.7,594.1 707.6,592.9 717.5,592.9 725.0,594.3 732.4,599.3 739.8,606.7 747.3,615.9 754.7,627.1 762.1,640.7 769.6,654.3 777.0,669.2 784.5,682.9 791.9,696.5 799.3,708.9 806.8,718.8 814.2,725.0 824.1,729.2 831.6,731.7 840.0,733.7 852.4,735.7 864.8,735.7 877.2,734.4 889.6,734.4 902.0,734.2 916.9,733.2 926.8,730.7 939.2,729.2 951.6,727.5 961.5,725.7 971.4,721.3 981.3,716.3 988.8,711.4 998.7,708.1 1008.6,704.4 1018.5,700.7 1028.4,697.2 1038.3,692.8 1048.3,688.6 1058.2,684.1 1068.1,676.7 1078.0,671.2 1087.9,663.0 1097.9,656.8 1107.8,652.4 1117.7,647.6 1127.6,644.9 1137.5,640.7 1147.4,639.0 1157.4,637.0 1167.3,636.2 1177.2,636.5 1187.1,637.5 1197.0,638.7 1206.9,639.5 1216.9,641.9 1226.8,643.9 1230.0,645.2 1242.4,646.4 1254.8,648.1 1269.7,648.6 1284.5,648.6 1294.5,649.4 1309.3,648.6 1324.2,648.1 1339.1,646.4 1354.0,644.4 1366.4,642.7 1378.8,640.2 1388.7,637.7 1398.6,635.2 1408.5,632.0 1418.4,630.0 1425.9,629.0" fill="none" stroke="#ff0000" stroke-width="1" stroke-dasharray="3 3"/>
</g>
<g shape-rendering="crispEdges" clip-path="url(#c3)">
<line x1="0" y1="787.5" x2="1647" y2="787.5" stroke="#c0c0c0" stroke-width="1" stroke-dasharray="3 3"/>
<line x1="0" y1="838.5" x2="1647" y2="838.5" stroke="#c0c0c0" stroke-width="1" stroke-dasharray="3 3"/>
<line x1="0" y1="899.5" x2="1647" y2="899.5" stroke="#c0c0c0" stroke-width="1" stroke-dasharray="3 3"/>
<polyline points="0.0,845.0 4.5,848.4 12.5,845.0 20.5,841.2 28.5,857.1 36.5,859.6 44.5,854.6 52.5,845.0 60.5,847.9 68.5,851.7 76.5,863.6 84.5,860.3 92.5,859.1 100.5,872.2 108.5,871.5 116.5,865.3 124.5,866.0 132.5,869.5 140.5,863.3 148.5,866.5 156.5,850.4 164.5,843.0 172.5,816.9 180.5,821.4 188.5,818.2 196.5,815.2 204.5,813.2 212.5,819.4 220.5,819.4 228.5,814.0 236.5,818.2 244.5,810.2 252.5,823.6 260.5,822.4 268.5,829.8 276.5,828.1 284.5,827.4 292.5,835.5 300.5,830.1 308.5,837.5 316.5,830.6 324.5,823.9 332.5,821.9 340.5,819.9 348.5,816.2 356.5,818.2 364.5,805.0 372.5,801.3 380.5,795.1 388.5,796.4 396.5,796.4 404.5,808.3 412.5,823.6 420.5,844.2 428.5,841.2 436.5,845.0 444.5,849.2 452.5,839.8 460.5,835.0 468.5,836.3 476.5,835.0 484.5,831.1 492.5,831.1 500.5,857.4 508.5,856.1 516.5,851.7 524.5,840.5 532.5,842.5 540.5,836.3 548.5,841.0 556.5,815.7 564.5,810.0 572.5,818.2 580.5,810.2 588.5,827.4 596.5,820.7 604.5,818.9 612.5,816.4 620.5,815.2 628.5,818.2 636.5,826.4 644.5,823.1 652.5,810.2 660.5,810.2 668.5,813.7 676.5,815.7 684.5,814.5 692.5,817.4 700.5,816.2 708.5,816.2 716.5,833.1 724.5,849.2 732.5,866.5 740.5,872.7 748.5,885.1 756.5,885.1 764.5,862.3 772.5,863.6 780.5,866.0 788.5,868.5 796.5,860.8 804.5,856.6 812.5,852.9 820.5,856.6 828.5,869.0 836.5,871.0 844.5,853.4 852.5,862.3 860.5,856.1 868.5,851.2 876.5,851.2 884.5,853.4 892.5,862.8 900.5,867.3 908.5,862.8 916.5,856.1 924.5,848.4 932.5,857.4 940.5,856.1 948.5,848.4 956.5,852.1 964.5,846.2 972.5,838.8 980.5,840.5 988.5,844.7 996.5,861.6 1004.5,846.2 1012.5,848.4 1020.5,843.5 1028.5,841.0 1036.5,833.6 1044.5,831.8 1052.5,833.6 1060.5,830.1 1068.5,827.1 1076.5,830.6 1084.5,827.1 1092.5,828.8 1100.5,833.6 1108.5,836.8 1116.5,838.5 1124.5,826.4 1132.5,819.4 1140.5,830.1 1148.5,830.1 1156.5,831.3 1164.5,839.3 1172.5,839.8 1180.5,842.5 1188.5,840.5 1196.5,842.5 1204.5,837.5 1212.5,834.3 1220.5,823.9 1228.5,843.5 1236.5,843.5 1244.5,838.0 1252.5,836.0 1260.5,837.5 1268.5,831.3 1276.5,836.0 1284.5,838.5 1292.5,835.0 1300.5,833.1 1308.5,826.4 1316.5,839.3 1324.5,828.8 1332.5,827.4 1340.5,827.4 1348.5,824.9 1356.5,829.3 1364.5,824.4 1372.5,821.9 1380.5,810.7 1388.5,805.0 1396.5,806.5 1404.5,808.8 1412.5,805.0 1420.5,841.7 1428.5,847.4 1436.5,844.2" fill="none" stroke="#1e90ff" stroke-width="1"/>
</g>
<line x1="1235.0" y1="427.0" x2="1391.6" y2="273.3" stroke="#ff0000" stroke-width="3.4"/><polygon points="1398.0,267.0 1393.3,277.9 1387.0,271.5" fill="#ff0000"/>
<line x1="1398.0" y1="267.0" x2="1442.7" y2="381.6" stroke="#ff0000" stroke-width="3.4"/><polygon points="1446.0,390.0 1437.8,381.4 1446.2,378.1" fill="#ff0000"/>
<line x1="1396.0" y1="608.0" x2="1433.8" y2="630.8" stroke="#ff0000" stroke-width="3.4"/><polygon points="1441.5,635.5 1430.0,633.2 1434.2,626.4" fill="#ff0000"/>
<line x1="1400.0" y1="788.5" x2="1429.8" y2="845.0" stroke="#ff0000" stroke-width="3.4"/><polygon points="1434.0,853.0 1425.3,845.1 1432.4,841.4" fill="#ff0000"/>
<text x="3.5" y="35.8" font-size="10.0" fill="#000" textLength="200" lengthAdjust="spacingAndGlyphs" style="white-space:pre">USDJPY-,H4  113.592 113.686 113.568 113.686</text>
<text x="-7.200" y="592" font-size="10.0" fill="#000" textLength="126.700" lengthAdjust="spacingAndGlyphs" style="white-space:pre">MACD(12,26,9) 0.0705 0.1102</text>
<text x="-6.700" y="763.500" font-size="10.0" fill="#000" textLength="66.200" lengthAdjust="spacingAndGlyphs" style="white-space:pre">RSI(14) 47.3747</text>
<text x="-13.600" y="937.500" font-size="10" fill="#000" textLength="49" lengthAdjust="spacingAndGlyphs">5 Nov 2021</text>
<text x="50.8" y="937.500" font-size="10" fill="#000" textLength="51.7" lengthAdjust="spacingAndGlyphs">8 Nov 00:00</text>
<text x="114.8" y="937.500" font-size="10" fill="#000" textLength="51.7" lengthAdjust="spacingAndGlyphs">9 Nov 08:00</text>
<text x="178.8" y="937.500" font-size="10" fill="#000" textLength="56.5" lengthAdjust="spacingAndGlyphs">10 Nov 16:00</text>
<text x="242.8" y="937.500" font-size="10" fill="#000" textLength="56.5" lengthAdjust="spacingAndGlyphs">12 Nov 00:00</text>
<text x="306.8" y="937.500" font-size="10" fill="#000" textLength="56.5" lengthAdjust="spacingAndGlyphs">15 Nov 08:00</text>
<text x="370.8" y="937.500" font-size="10" fill="#000" textLength="56.5" lengthAdjust="spacingAndGlyphs">16 Nov 16:00</text>
<text x="434.8" y="937.500" font-size="10" fill="#000" textLength="56.5" lengthAdjust="spacingAndGlyphs">18 Nov 00:00</text>
<text x="498.8" y="937.500" font-size="10" fill="#000" textLength="56.5" lengthAdjust="spacingAndGlyphs">19 Nov 08:00</text>
<text x="562.8" y="937.500" font-size="10" fill="#000" textLength="56.5" lengthAdjust="spacingAndGlyphs">22 Nov 16:00</text>
<text x="626.8" y="937.500" font-size="10" fill="#000" textLength="56.5" lengthAdjust="spacingAndGlyphs">24 Nov 00:00</text>
<text x="690.8" y="937.500" font-size="10" fill="#000" textLength="56.5" lengthAdjust="spacingAndGlyphs">25 Nov 08:00</text>
<text x="754.8" y="937.500" font-size="10" fill="#000" textLength="56.5" lengthAdjust="spacingAndGlyphs">26 Nov 16:00</text>
<text x="818.8" y="937.500" font-size="10" fill="#000" textLength="56.5" lengthAdjust="spacingAndGlyphs">30 Nov 00:00</text>
<text x="882.8" y="937.500" font-size="10" fill="#000" textLength="49.6" lengthAdjust="spacingAndGlyphs">1 Dec 08:00</text>
<text x="946.8" y="937.500" font-size="10" fill="#000" textLength="49.6" lengthAdjust="spacingAndGlyphs">2 Dec 16:00</text>
<text x="1010.8" y="937.500" font-size="10" fill="#000" textLength="49.6" lengthAdjust="spacingAndGlyphs">6 Dec 00:00</text>
<text x="1074.8" y="937.500" font-size="10" fill="#000" textLength="49.6" lengthAdjust="spacingAndGlyphs">7 Dec 08:00</text>
<text x="1138.8" y="937.500" font-size="10" fill="#000" textLength="49.6" lengthAdjust="spacingAndGlyphs">8 Dec 16:00</text>
<text x="1202.8" y="937.500" font-size="10" fill="#000" textLength="54.3" lengthAdjust="spacingAndGlyphs">10 Dec 00:00</text>
<text x="1266.8" y="937.500" font-size="10" fill="#000" textLength="54.3" lengthAdjust="spacingAndGlyphs">13 Dec 08:00</text>
<text x="1330.8" y="937.500" font-size="10" fill="#000" textLength="54.3" lengthAdjust="spacingAndGlyphs">14 Dec 16:00</text>
<text x="1394.8" y="937.500" font-size="10" fill="#000" textLength="54.3" lengthAdjust="spacingAndGlyphs">16 Dec 00:00</text>
<g id="oc">
<rect x="0" y="44" width="210" height="57" fill="url(#gb)" shape-rendering="crispEdges"/>
<rect x="43" y="44" width="115" height="24" fill="#fff" shape-rendering="crispEdges"/>
<rect x="100" y="68" width="2" height="33" fill="#fff" shape-rendering="crispEdges"/>
<rect x="0" y="67" width="39" height="1" fill="#7676ea" shape-rendering="crispEdges"/>
<rect x="162" y="67" width="44" height="1" fill="#7676ea" shape-rendering="crispEdges"/>
<rect x="45.500" y="44.500" width="110" height="21" fill="#fff" stroke="#b0b0b0" shape-rendering="crispEdges"/>
<rect x="46.500" y="45.500" width="19" height="19" fill="url(#gs)" stroke="#c4c4c4" shape-rendering="crispEdges"/>
<rect x="135.500" y="45.500" width="19" height="19" fill="url(#gs)" stroke="#c4c4c4" shape-rendering="crispEdges"/>
<path d="M53 53h5l-2.500 3z" fill="#4a5ec0"/><path d="M142 56h5l-2.500-3z" fill="#4a5ec0"/>
<text x="130" y="58.600" font-size="11.500" fill="#000" text-anchor="end">1.00</text>
<text x="3.500" y="59.400" font-size="11.200" fill="#fff" textLength="25" lengthAdjust="spacingAndGlyphs">SELL</text>
<text x="171.700" y="59.400" font-size="11.200" fill="#fff" textLength="23" lengthAdjust="spacingAndGlyphs">BUY</text>
<text x="14.500" y="95.300" font-size="10.800" font-weight="bold" fill="#fff" textLength="20.300" lengthAdjust="spacingAndGlyphs">113</text>
<text x="39" y="95.700" font-size="34.500" fill="#fff" textLength="33.700" lengthAdjust="spacingAndGlyphs">68</text>
<text x="78" y="79.700" font-size="11.200" font-weight="bold" fill="#fff">6</text>
<text x="124.700" y="95.300" font-size="10.800" font-weight="bold" fill="#fff" textLength="20.300" lengthAdjust="spacingAndGlyphs">113</text>
<text x="150" y="95.700" font-size="34.500" fill="#fff" textLength="34.400" lengthAdjust="spacingAndGlyphs">70</text>
<text x="189.600" y="79.700" font-size="11.200" font-weight="bold" fill="#fff">2</text>
</g>
</svg></body></html>
